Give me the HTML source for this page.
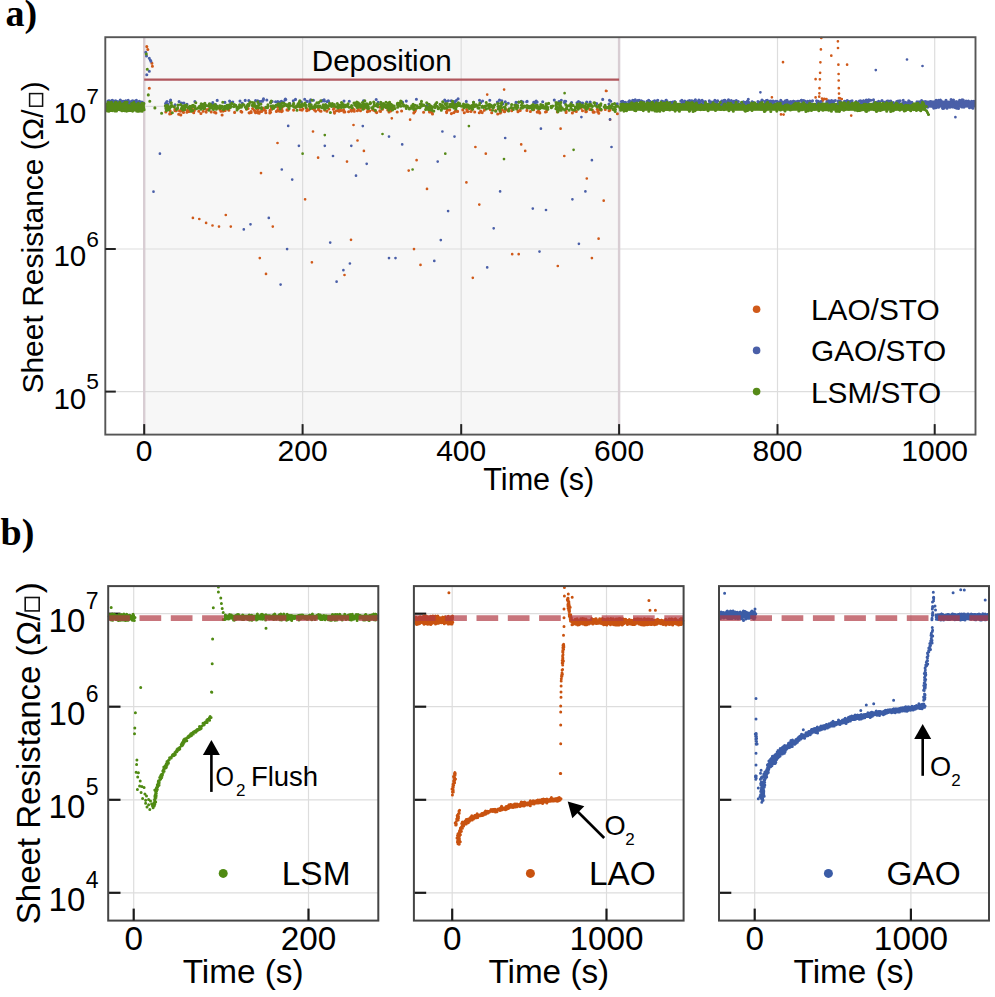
<!DOCTYPE html>
<html><head><meta charset="utf-8"><style>
html,body{margin:0;padding:0;background:#fff;}
svg{display:block;}
text{font-family:"Liberation Sans",sans-serif;fill:#000;}
</style></head><body>
<svg width="995" height="997" viewBox="0 0 995 997">
<rect width="995" height="997" fill="#fff"/>
<rect x="144.2" y="37.2" width="474.9" height="397.40000000000003" fill="#f7f7f7"/>
<line x1="302.6" y1="37.2" x2="302.6" y2="434.6" stroke="#dddddd" stroke-width="1.2"/>
<line x1="461.2" y1="37.2" x2="461.2" y2="434.6" stroke="#dddddd" stroke-width="1.2"/>
<line x1="777.5" y1="37.2" x2="777.5" y2="434.6" stroke="#dddddd" stroke-width="1.2"/>
<line x1="934.7" y1="37.2" x2="934.7" y2="434.6" stroke="#dddddd" stroke-width="1.2"/>
<line x1="105.3" y1="391.6" x2="975.5" y2="391.6" stroke="#dddddd" stroke-width="1.2"/>
<line x1="105.3" y1="249.0" x2="975.5" y2="249.0" stroke="#dddddd" stroke-width="1.2"/>
<line x1="105.3" y1="106.4" x2="975.5" y2="106.4" stroke="#dddddd" stroke-width="1.2"/>
<line x1="144.2" y1="37.2" x2="144.2" y2="434.6" stroke="#d8cdd3" stroke-width="2.4"/>
<line x1="619.1" y1="37.2" x2="619.1" y2="434.6" stroke="#d8cdd3" stroke-width="2.4"/>
<rect x="106" y="102.6" width="38.5" height="8.2" fill="#568a18"/>
<rect x="619.5" y="102.8" width="306.5" height="8.0" fill="#568a18"/>
<rect x="926" y="100.6" width="49" height="7.0" fill="#4a5fa8"/>
<path d="M146.8 46.6h0M151.9 63.2h0M152.4 66.2h0M149.3 88.3h0M147.8 49.5h0M464.3 112.7h0M279.5 111.3h0M198.8 111.3h0M258.2 113.0h0M500.9 112.2h0M338.7 109.9h0M382.5 109.2h0M445.1 108.1h0M456.8 111.2h0M280.3 110.7h0M502.4 109.8h0M170.7 113.7h0M192.5 111.3h0M479.3 112.7h0M471.8 110.0h0M376.0 112.0h0M376.7 112.6h0M255.5 112.8h0M609.1 110.8h0M373.4 110.1h0M537.2 112.1h0M287.0 109.9h0M260.3 111.6h0M429.0 110.1h0M229.4 107.4h0M225.2 110.5h0M537.4 107.4h0M484.3 110.3h0M270.0 111.8h0M176.3 110.8h0M166.6 110.3h0M302.1 110.1h0M228.9 110.3h0M546.5 111.6h0M165.8 112.0h0M219.5 108.3h0M585.6 109.8h0M296.6 106.9h0M334.0 105.8h0M432.5 113.9h0M328.8 109.0h0M186.9 112.2h0M211.2 111.9h0M589.8 109.4h0M278.2 110.1h0M251.2 112.5h0M334.5 113.1h0M533.6 109.7h0M451.4 113.6h0M414.3 108.5h0M491.7 112.8h0M369.7 111.0h0M506.7 109.7h0M187.2 110.7h0M585.8 111.7h0M321.0 111.3h0M300.2 109.7h0M283.1 106.2h0M462.8 109.9h0M344.0 112.0h0M241.0 111.4h0M576.3 111.4h0M390.7 110.9h0M617.4 113.7h0M369.3 110.9h0M206.2 112.1h0M320.2 111.0h0M282.3 110.9h0M423.6 112.3h0M352.4 108.6h0M352.9 108.7h0M318.5 109.8h0M193.2 110.9h0M222.1 115.0h0M393.5 108.3h0M263.0 108.4h0M288.0 110.2h0M367.4 111.7h0M598.1 112.3h0M174.9 109.4h0M179.6 111.0h0M379.9 107.2h0M431.6 111.9h0M585.8 110.5h0M539.8 113.0h0M277.8 107.2h0M214.5 112.3h0M474.7 112.0h0M592.4 110.1h0M512.2 108.4h0M372.6 109.8h0M520.2 110.4h0M270.6 112.3h0M302.9 109.0h0M223.1 111.1h0M482.2 112.6h0M215.9 112.9h0M429.6 111.2h0M341.2 110.5h0M169.7 113.9h0M301.9 106.3h0M457.6 111.4h0M566.2 109.4h0M277.2 110.5h0M601.1 110.1h0M174.9 110.6h0M391.2 109.6h0M281.8 108.9h0M468.0 111.5h0M180.5 111.3h0M318.5 108.1h0M254.9 111.8h0M526.9 110.4h0M258.2 108.8h0M605.3 109.4h0M269.8 113.0h0M265.5 110.6h0M597.2 109.2h0M390.1 110.7h0M354.3 111.2h0M467.0 111.3h0M343.6 109.9h0M261.7 111.4h0M188.5 111.5h0M192.3 109.1h0M566.1 112.5h0M497.7 114.0h0M314.5 110.0h0M249.2 113.0h0M179.5 110.8h0M466.7 109.5h0M315.6 111.1h0M241.8 112.1h0M324.6 110.1h0M598.8 113.3h0M259.2 113.3h0M326.9 111.3h0M361.3 107.7h0M187.4 110.2h0M582.5 110.7h0M252.6 108.6h0M178.7 114.2h0M351.5 111.1h0M183.5 109.4h0M180.8 114.9h0M281.7 111.6h0M504.3 111.6h0M288.6 109.4h0M599.8 109.6h0M490.4 109.7h0M308.7 110.0h0M508.1 110.6h0M581.1 108.1h0M176.0 109.2h0M271.2 106.7h0M598.1 111.1h0M340.5 110.1h0M389.0 111.9h0M586.4 111.6h0M500.3 113.0h0M538.5 110.8h0M313.8 108.0h0M310.1 108.3h0M200.9 113.5h0M254.6 110.7h0M194.4 110.4h0M180.4 110.5h0M610.0 110.1h0M566.1 111.7h0M203.2 111.3h0M208.8 109.0h0M367.9 110.2h0M271.3 108.6h0M471.0 111.5h0M504.6 111.8h0M220.0 109.4h0M546.8 110.0h0M334.3 112.0h0M500.1 110.9h0M276.4 111.4h0M234.6 112.4h0M313.2 108.7h0M344.8 111.9h0M270.0 110.4h0M532.0 107.9h0M211.5 107.5h0M380.5 111.5h0M580.1 107.9h0M183.3 111.5h0M251.1 111.5h0M606.7 107.5h0M334.0 108.4h0M558.2 109.4h0M518.1 110.9h0M594.3 112.1h0M446.5 111.7h0M263.8 110.0h0M257.6 111.2h0M280.7 108.5h0M257.4 109.4h0M170.2 110.9h0M249.1 112.8h0M306.7 110.8h0M413.8 112.9h0M193.7 112.8h0M414.8 111.3h0M455.2 111.3h0M480.7 111.0h0M351.0 109.9h0M597.7 111.8h0M306.8 108.7h0M354.1 109.6h0M557.4 111.9h0M254.5 110.6h0M495.5 110.5h0M574.3 110.7h0M357.4 110.8h0M565.8 109.1h0M374.3 110.4h0M415.4 110.6h0M455.9 111.0h0M447.5 110.1h0M333.4 109.3h0M293.6 110.1h0M401.6 111.0h0M387.7 110.0h0M530.4 111.5h0M222.5 110.9h0M593.2 112.2h0M189.2 111.4h0M585.5 108.0h0M446.6 112.6h0M539.3 111.9h0M265.8 112.7h0M348.6 111.8h0M248.1 108.5h0M264.0 109.1h0M339.1 111.2h0M220.9 111.2h0M572.4 112.9h0M183.7 109.4h0M182.3 110.8h0M545.5 112.0h0M414.7 111.8h0M449.7 110.0h0M429.5 111.9h0M358.3 109.3h0M364.0 108.8h0M175.6 110.6h0M271.8 109.2h0M511.7 110.8h0M246.5 109.2h0M379.8 110.9h0M360.5 110.7h0M206.6 109.7h0M183.5 112.4h0M453.9 112.6h0M518.0 111.7h0M397.2 112.0h0M336.5 110.7h0" stroke="#d05a1a" stroke-width="3.1" stroke-linecap="round" fill="none"/>
<path d="M118.6 102.2h0M109.2 102.4h0M126.6 101.4h0M125.5 101.8h0M107.9 101.4h0M109.9 101.7h0M122.4 101.8h0M114.9 101.3h0M130.0 102.5h0M121.4 101.3h0M143.1 102.9h0M117.4 102.0h0M111.9 102.0h0M137.1 102.0h0M113.3 100.7h0M120.5 101.1h0M127.0 101.8h0M114.2 101.7h0M132.0 101.1h0M128.5 101.9h0M123.5 101.2h0M132.7 102.8h0M115.7 100.8h0M139.3 101.2h0M133.9 101.1h0M110.9 103.5h0M122.2 101.6h0M124.8 101.2h0M108.0 101.0h0M128.0 100.6h0M139.3 101.2h0M128.8 102.6h0M128.2 100.3h0M141.9 102.0h0M124.3 101.5h0M132.8 101.4h0M130.8 102.9h0M117.2 101.5h0M121.0 101.5h0M123.8 101.5h0M112.8 101.8h0M135.3 101.8h0M111.4 101.6h0M139.2 102.3h0M109.5 100.8h0M139.6 101.9h0M137.2 102.0h0M122.1 101.2h0M120.0 102.9h0M112.2 100.4h0M113.1 101.7h0M124.7 102.1h0M128.6 101.6h0M122.2 101.7h0M120.3 100.0h0M132.4 100.9h0M125.8 100.8h0M108.5 100.9h0M140.2 101.9h0M136.4 100.2h0M121.2 101.3h0M130.3 101.8h0M108.8 102.0h0M112.6 101.8h0M119.3 101.6h0M112.2 101.6h0M110.3 101.5h0M139.3 101.7h0M129.5 101.9h0M119.5 102.0h0M145.8 52.2h0M149.3 58.2h0M150.4 60.2h0M150.9 61.2h0M149.3 71.3h0M146.8 74.8h0M146.5 56.0h0M596.7 103.6h0M617.2 103.9h0M497.4 102.0h0M610.7 101.2h0M388.3 104.1h0M240.0 101.1h0M522.9 102.1h0M324.3 100.9h0M508.3 103.2h0M289.8 103.5h0M535.3 102.7h0M582.6 103.1h0M259.6 101.5h0M309.9 102.6h0M181.7 103.1h0M590.1 102.6h0M473.6 102.2h0M521.3 101.2h0M217.2 100.4h0M328.3 100.7h0M561.3 100.2h0M565.7 101.3h0M212.5 104.1h0M344.0 101.1h0M527.1 101.4h0M427.1 105.4h0M328.6 101.2h0M245.2 100.4h0M502.6 104.0h0M280.2 102.0h0M455.2 103.2h0M466.3 101.4h0M306.9 101.4h0M232.8 102.0h0M444.7 100.1h0M571.6 102.5h0M224.9 102.4h0M175.1 104.7h0M166.2 102.6h0M327.1 101.6h0M266.8 100.0h0M257.7 100.8h0M448.3 100.8h0M590.2 102.0h0M275.6 101.7h0M454.7 102.0h0M560.6 102.1h0M285.0 99.9h0M170.2 101.9h0M324.1 99.8h0M458.1 98.7h0M498.0 102.7h0M277.8 101.6h0M406.3 101.1h0M349.3 101.2h0M518.6 102.2h0M170.6 100.0h0M229.6 101.1h0M255.6 100.5h0M456.3 100.5h0M534.3 102.3h0M301.3 102.0h0M187.0 104.4h0M489.8 100.2h0M167.9 104.2h0M376.2 99.5h0M501.8 100.8h0M212.8 102.6h0M270.5 102.6h0M505.3 101.9h0M480.6 102.7h0M285.8 99.5h0M416.4 99.3h0M402.6 102.2h0M285.4 99.1h0M263.5 98.9h0M564.5 102.8h0M272.2 101.5h0M502.7 103.7h0M313.4 100.3h0M564.6 101.4h0M577.0 102.7h0M451.3 100.8h0M609.5 100.2h0M378.1 102.3h0M554.3 100.1h0M363.5 100.9h0M304.7 99.3h0M261.2 101.2h0M578.5 101.5h0M230.6 102.6h0M586.7 102.0h0M321.6 101.3h0M183.9 103.0h0M479.5 100.2h0M499.5 100.1h0M194.9 101.5h0M536.2 101.1h0M537.1 102.1h0M559.0 101.5h0M580.1 102.5h0M258.4 101.4h0M215.8 104.7h0M533.7 102.3h0M452.9 102.3h0M295.5 99.4h0M210.3 104.1h0M258.1 102.9h0M309.9 100.8h0M281.5 101.4h0M293.3 100.8h0M310.7 99.8h0M602.7 99.4h0M445.7 101.4h0M179.1 101.6h0M516.0 102.4h0M322.4 100.6h0M263.3 100.0h0M556.5 103.8h0M242.3 103.2h0M165.6 103.6h0M609.0 104.1h0M167.0 101.5h0M526.7 101.8h0M248.8 100.6h0M542.7 101.8h0M283.3 102.2h0M262.5 101.2h0M482.6 101.0h0M454.0 101.5h0M785.4 100.7h0M821.8 101.1h0M804.7 101.0h0M699.2 102.7h0M838.4 101.7h0M714.9 100.2h0M857.2 102.5h0M705.4 101.5h0M780.7 102.0h0M622.8 101.4h0M766.1 100.8h0M731.3 100.5h0M923.8 101.8h0M647.6 102.9h0M628.6 101.8h0M774.1 101.8h0M790.5 102.4h0M732.2 103.3h0M665.8 102.2h0M902.9 102.8h0M669.8 103.0h0M694.5 101.9h0M921.6 100.5h0M725.7 101.6h0M865.8 100.9h0M897.4 101.8h0M653.1 101.6h0M818.2 101.3h0M743.4 101.8h0M793.2 101.4h0M745.8 103.3h0M812.5 100.7h0M688.8 101.6h0M753.2 102.2h0M691.0 102.0h0M817.3 102.9h0M711.6 102.2h0M794.8 101.6h0M668.1 102.7h0M702.1 100.4h0M850.7 101.9h0M721.8 101.0h0M769.1 102.0h0M829.6 101.3h0M803.5 100.6h0M891.0 101.9h0M684.4 102.2h0M859.4 101.1h0M885.0 102.3h0M925.4 103.1h0M711.4 102.0h0M919.1 101.7h0M622.9 102.0h0M846.0 101.4h0M649.9 102.2h0M647.7 102.7h0M724.2 102.7h0M890.8 101.0h0M920.8 102.2h0M863.2 101.7h0M831.7 102.5h0M691.1 101.8h0M752.2 101.7h0M924.2 101.7h0M717.2 101.9h0M769.6 101.3h0M661.7 101.1h0M830.4 101.8h0M665.4 101.5h0M654.5 100.7h0M728.5 99.8h0M727.3 101.6h0M686.0 103.2h0M844.5 101.3h0M703.8 101.9h0M641.2 102.2h0M633.3 100.8h0M790.9 101.6h0M731.3 102.8h0M820.5 101.7h0M787.0 100.4h0M921.6 101.2h0M888.3 101.4h0M717.7 100.8h0M748.7 102.4h0M738.3 101.5h0M745.9 103.4h0M621.6 103.8h0M806.6 102.1h0M807.5 101.3h0M735.7 101.6h0M655.7 102.1h0M878.8 102.0h0M635.2 99.9h0M833.1 101.1h0M788.5 102.6h0M716.9 101.6h0M849.1 101.6h0M882.0 100.5h0M925.4 101.5h0M692.0 100.7h0M736.3 100.6h0M838.6 100.8h0M808.1 102.2h0M827.9 101.1h0M786.7 102.6h0M688.5 101.1h0M899.0 101.2h0M765.3 101.4h0M766.3 100.6h0M687.9 102.7h0M782.3 103.0h0M780.8 100.2h0M693.3 101.3h0M672.9 102.0h0M816.6 100.8h0M874.0 102.9h0M633.3 100.6h0M737.0 102.3h0M657.8 100.3h0M667.2 101.6h0M729.5 102.0h0M866.6 100.7h0M647.0 101.5h0M741.4 102.8h0M757.9 101.6h0M766.9 102.0h0M666.0 100.3h0M828.8 100.9h0M693.0 102.3h0M733.8 101.2h0M625.5 102.3h0M681.7 101.4h0M674.8 101.5h0M840.5 101.5h0M694.2 102.3h0M876.1 102.6h0M883.7 102.2h0M681.9 100.3h0M809.7 102.3h0M734.1 102.4h0M732.7 101.8h0M838.7 101.4h0M819.0 102.4h0M868.9 101.1h0M797.7 102.2h0M903.9 102.4h0M838.6 103.6h0M734.3 101.2h0M641.7 101.0h0M852.1 100.9h0M772.5 102.3h0M896.7 101.6h0M802.0 101.4h0M762.0 100.1h0M747.4 102.0h0M765.4 102.3h0M770.8 101.1h0M777.1 102.1h0M847.3 100.5h0M743.3 102.8h0M790.0 101.9h0M856.2 101.6h0M687.8 101.2h0M643.7 101.8h0M647.1 101.3h0M851.3 101.4h0M829.1 101.5h0M838.3 101.3h0M832.1 101.6h0M748.3 99.2h0M870.8 100.2h0M887.7 102.0h0M779.1 102.2h0M621.9 102.2h0M700.5 101.6h0M716.1 101.6h0M790.6 103.2h0M776.9 101.4h0M713.5 101.7h0M886.1 102.1h0M698.9 100.1h0M682.0 102.5h0M734.8 101.9h0M762.5 100.5h0M732.3 101.7h0M866.0 102.2h0M790.7 103.3h0M635.7 101.2h0M745.5 102.5h0M793.4 101.3h0M864.4 102.2h0M709.5 101.2h0M801.8 100.2h0M759.6 102.4h0M889.6 101.3h0M637.7 100.6h0M635.0 102.1h0M884.8 102.6h0M675.3 102.1h0M903.2 100.3h0M773.0 101.1h0M826.9 101.3h0M684.8 101.0h0M877.4 102.7h0M683.5 103.0h0M651.0 102.8h0M911.9 102.4h0M747.3 101.3h0M898.1 101.1h0M830.6 101.8h0M833.6 101.8h0M632.8 101.9h0M691.4 101.0h0M798.7 101.2h0M667.3 102.5h0M900.0 100.9h0M666.6 103.0h0M865.4 102.4h0M630.1 101.5h0M736.7 101.2h0M787.5 101.2h0M648.7 100.3h0M752.0 101.9h0M828.4 102.7h0M657.5 102.6h0M903.5 103.5h0M781.6 101.6h0M709.3 100.8h0M772.4 102.7h0M905.5 102.4h0M885.2 102.1h0M803.5 101.3h0M662.9 101.5h0M703.3 102.8h0M689.7 100.6h0M903.9 102.7h0M917.0 101.8h0M725.7 102.7h0M635.4 101.2h0M722.3 101.0h0M847.9 101.8h0M674.9 101.8h0M641.3 100.9h0M791.7 102.4h0M861.9 102.2h0M802.8 101.4h0M777.6 101.7h0M649.8 101.3h0M797.4 101.3h0M728.3 100.8h0M670.3 102.4h0M672.1 102.3h0M878.6 101.3h0M888.1 101.1h0M648.9 101.7h0M889.9 102.3h0M784.5 102.2h0M656.1 101.1h0M784.4 101.7h0M775.6 101.2h0M743.9 102.0h0M682.5 102.0h0M887.6 102.0h0M774.1 101.7h0M909.6 101.5h0M769.9 101.9h0M831.5 100.6h0M690.4 101.6h0M701.1 101.1h0M629.5 100.8h0M709.6 102.2h0M893.4 102.5h0M691.8 102.1h0M802.8 101.9h0M639.1 100.4h0M695.4 99.7h0M632.7 100.3h0M809.8 101.1h0M725.0 100.2h0M868.8 99.8h0M623.3 102.0h0M908.7 100.9h0M647.0 102.0h0M695.2 101.5h0M666.4 100.4h0M725.7 101.9h0M687.4 102.0h0M721.6 104.3h0M863.0 101.2h0M767.3 100.2h0M898.8 101.6h0M850.7 101.3h0M811.9 101.2h0M879.6 101.7h0M840.3 101.3h0M727.2 102.7h0M826.5 103.4h0M848.9 102.6h0M907.7 102.7h0M897.8 101.6h0M866.3 100.1h0M801.2 100.2h0M860.8 102.2h0M887.3 101.0h0M783.2 103.5h0M910.4 103.2h0M861.8 103.0h0M697.4 101.9h0M680.8 101.1h0M760.6 101.7h0M898.8 102.5h0M830.4 101.4h0M860.6 100.8h0M863.6 100.8h0M873.5 99.9h0M744.7 102.6h0M876.7 102.2h0M724.3 100.3h0M863.4 100.7h0M621.4 101.5h0M654.0 101.6h0M869.4 100.6h0M760.4 102.1h0M723.0 101.8h0M879.3 102.3h0M810.1 101.5h0M703.2 101.9h0M835.3 100.5h0M867.8 102.0h0M931.0 105.7h0M927.1 107.0h0M934.1 102.0h0M972.4 102.9h0M936.1 107.6h0M955.2 107.6h0M944.5 104.1h0M972.3 104.2h0M973.9 101.3h0M966.1 101.1h0M951.1 99.6h0M933.7 108.1h0M947.5 106.9h0M937.4 102.8h0M930.0 104.6h0M967.7 104.2h0M943.6 108.0h0M969.2 105.6h0M928.8 105.2h0M947.0 108.2h0M942.9 105.6h0M956.3 103.0h0M950.8 105.7h0M969.9 104.1h0M943.0 108.4h0M927.8 107.1h0M958.8 104.6h0M947.2 106.4h0M969.1 106.2h0M962.1 99.9h0M941.1 100.8h0M972.2 107.6h0M932.2 104.9h0M953.5 100.0h0M944.4 106.3h0M956.8 102.1h0M962.7 102.2h0M951.9 103.4h0M973.4 105.4h0M964.8 105.7h0M943.8 108.3h0M960.1 105.8h0M938.7 101.1h0M953.5 107.0h0M964.3 102.7h0M931.9 104.2h0M968.4 101.1h0M961.5 101.1h0M940.4 100.1h0M939.7 103.0h0M972.9 108.3h0M934.3 102.4h0M971.7 101.4h0M940.9 103.5h0M930.4 101.9h0M944.5 103.1h0M972.7 102.0h0M935.1 107.8h0M947.3 107.1h0M956.5 106.6h0M940.6 101.0h0M962.5 103.8h0M952.7 105.6h0M962.3 102.1h0M943.0 107.9h0M951.2 102.2h0M956.2 101.9h0M963.2 100.0h0M965.9 104.7h0M942.5 108.1h0M938.1 101.8h0M928.5 104.5h0M962.3 105.7h0M945.4 106.9h0M930.5 102.4h0M956.9 108.3h0M956.4 105.8h0M963.3 103.2h0M971.5 106.3h0M941.9 103.1h0M964.9 102.7h0M934.2 107.4h0M951.3 104.3h0M958.1 107.7h0M931.6 102.6h0M928.3 103.3h0M949.9 107.3h0M958.1 104.8h0M945.0 104.8h0M938.6 107.2h0M964.0 107.1h0M932.5 105.6h0M962.3 104.1h0M969.5 107.7h0M961.8 107.0h0M957.1 107.5h0M931.5 105.9h0M959.8 105.1h0M938.6 100.2h0M954.9 107.0h0M938.5 101.5h0M936.1 100.4h0M958.5 108.4h0M964.7 102.8h0M959.6 100.2h0M966.5 102.5h0M925.2 105.3h0M931.9 102.1h0M927.9 103.6h0M952.5 106.9h0M927.0 107.0h0M930.5 101.6h0M956.2 102.7h0M941.4 104.7h0M935.8 106.7h0M935.3 107.2h0M965.0 104.4h0M926.5 106.6h0M926.4 104.1h0M946.0 100.2h0" stroke="#4a5fa8" stroke-width="3.1" stroke-linecap="round" fill="none"/>
<path d="M120.3 103.3h0M138.8 111.2h0M124.2 106.6h0M109.8 103.1h0M119.5 104.6h0M138.0 103.7h0M107.4 110.9h0M126.6 103.5h0M127.1 102.4h0M126.6 111.1h0M139.3 108.5h0M116.4 105.5h0M112.8 109.2h0M126.7 109.3h0M119.0 104.2h0M137.3 111.2h0M138.9 109.5h0M137.6 108.9h0M115.1 106.9h0M120.0 102.5h0M107.6 104.7h0M116.3 108.5h0M142.8 106.3h0M142.1 111.2h0M142.8 105.5h0M114.9 104.3h0M114.0 104.1h0M130.2 110.4h0M138.4 106.6h0M131.3 109.5h0M109.7 108.2h0M141.1 109.3h0M135.0 106.6h0M113.3 109.4h0M119.1 109.5h0M143.4 105.8h0M121.8 110.8h0M134.0 103.7h0M111.3 103.6h0M140.9 109.5h0M112.1 109.7h0M143.8 108.2h0M119.8 107.2h0M111.5 102.3h0M143.4 108.1h0M126.5 110.7h0M123.0 110.1h0M137.9 104.1h0M116.1 104.9h0M115.6 107.5h0M116.4 106.0h0M111.5 110.5h0M119.9 106.4h0M128.7 110.4h0M122.5 110.6h0M125.6 107.0h0M126.4 102.4h0M123.2 103.9h0M106.6 109.5h0M113.0 106.5h0M134.1 107.3h0M118.9 106.9h0M127.6 109.3h0M110.5 107.3h0M115.9 104.7h0M135.8 106.8h0M127.8 109.1h0M141.2 106.2h0M129.8 106.8h0M126.0 108.5h0M123.7 107.1h0M124.7 110.8h0M133.1 110.2h0M142.3 104.6h0M127.8 110.8h0M138.4 103.4h0M111.1 106.2h0M109.3 104.4h0M109.3 108.3h0M136.3 110.4h0M112.4 108.7h0M131.6 103.5h0M140.0 111.0h0M114.8 110.9h0M121.6 106.6h0M144.1 109.8h0M112.6 106.1h0M126.1 105.3h0M113.9 105.1h0M133.9 102.4h0M127.6 106.2h0M107.2 105.2h0M130.2 106.9h0M108.9 111.2h0M136.5 111.0h0M110.5 104.6h0M108.0 109.3h0M116.8 103.4h0M122.5 110.5h0M137.6 104.6h0M112.2 110.6h0M128.2 108.6h0M109.9 102.7h0M132.7 106.1h0M109.3 110.7h0M130.6 109.5h0M109.7 110.0h0M109.0 110.1h0M123.7 105.3h0M127.5 110.6h0M116.7 103.4h0M126.5 104.4h0M110.7 103.7h0M108.4 104.0h0M118.4 105.0h0M135.4 104.8h0M125.5 103.8h0M119.7 102.4h0M116.0 102.3h0M134.4 107.2h0M113.7 106.5h0M142.0 103.2h0M137.6 106.1h0M125.3 109.8h0M121.4 106.8h0M132.6 111.1h0M119.5 109.8h0M133.4 108.0h0M121.9 105.4h0M108.6 103.4h0M109.2 108.9h0M116.2 103.7h0M109.7 109.9h0M139.6 108.3h0M117.2 104.4h0M117.6 106.4h0M112.5 106.3h0M116.5 111.0h0M143.5 107.2h0M115.8 111.0h0M118.3 105.4h0M106.5 105.7h0M124.5 106.8h0M114.1 106.8h0M106.7 104.6h0M109.9 105.8h0M108.1 102.4h0M118.1 104.3h0M128.8 107.0h0M135.0 108.2h0M133.7 110.2h0M121.3 105.2h0M143.9 103.6h0M134.0 108.1h0M108.2 109.8h0M140.4 107.9h0M134.4 109.6h0M111.8 107.0h0M125.7 109.8h0M137.1 109.7h0M128.7 110.3h0M132.5 108.5h0M115.2 102.5h0M111.6 105.5h0M110.5 109.8h0M127.7 107.9h0M130.3 108.4h0M125.1 102.2h0M136.8 109.0h0M125.6 107.1h0M147.3 69.2h0M146.3 54.0h0M148.3 94.9h0M149.8 101.2h0M154.9 107.9h0M161.6 113.3h0M201.7 107.6h0M522.3 103.4h0M450.1 104.8h0M344.1 107.1h0M569.2 110.3h0M176.4 109.5h0M258.6 105.6h0M392.5 110.0h0M337.2 106.6h0M374.3 104.7h0M406.3 105.9h0M458.4 102.7h0M323.2 104.9h0M547.8 107.6h0M465.6 106.0h0M364.2 104.4h0M516.1 105.5h0M374.8 105.2h0M566.8 106.8h0M301.9 106.6h0M484.2 106.8h0M235.8 105.4h0M277.4 104.5h0M238.1 108.5h0M313.9 107.4h0M495.8 111.3h0M211.2 107.6h0M339.4 105.3h0M611.7 107.9h0M362.5 102.5h0M254.1 105.4h0M258.7 105.2h0M341.3 107.5h0M524.1 106.9h0M479.8 103.3h0M375.3 105.6h0M229.4 104.8h0M501.4 105.1h0M577.2 104.4h0M505.1 107.4h0M356.2 106.0h0M564.6 109.9h0M516.4 105.2h0M473.5 102.4h0M456.3 104.4h0M450.2 106.5h0M209.4 103.7h0M488.8 107.9h0M450.8 106.0h0M371.7 107.7h0M447.2 103.5h0M587.3 108.4h0M248.1 104.2h0M341.5 102.6h0M387.4 106.3h0M411.7 105.7h0M238.0 107.3h0M400.7 101.1h0M210.9 104.5h0M490.7 105.1h0M397.5 103.3h0M401.8 102.9h0M351.3 106.8h0M475.7 105.7h0M343.2 105.6h0M611.9 105.9h0M326.4 106.9h0M346.5 106.1h0M171.0 105.6h0M482.0 107.2h0M324.9 105.3h0M501.6 107.7h0M591.7 105.5h0M528.9 106.2h0M343.0 105.7h0M517.6 107.4h0M532.5 105.0h0M420.2 104.2h0M267.6 107.6h0M455.0 105.6h0M536.7 107.4h0M298.6 103.3h0M413.9 108.5h0M326.1 108.1h0M551.2 106.4h0M280.1 107.6h0M358.5 105.6h0M492.7 106.4h0M292.7 105.5h0M382.7 107.4h0M359.5 103.7h0M329.5 103.2h0M586.6 107.2h0M540.9 106.0h0M576.2 107.0h0M542.4 105.5h0M452.5 106.3h0M597.1 106.9h0M462.8 106.1h0M229.8 107.4h0M271.1 106.1h0M234.3 104.6h0M575.5 107.1h0M569.6 105.5h0M441.2 106.5h0M570.8 103.8h0M522.8 107.1h0M479.5 105.0h0M406.0 105.7h0M565.7 104.5h0M417.0 105.7h0M228.3 107.9h0M388.9 107.8h0M230.6 107.2h0M388.1 103.2h0M556.7 106.7h0M168.0 108.7h0M420.4 104.0h0M467.0 107.1h0M355.1 103.9h0M601.1 109.4h0M453.8 107.3h0M178.0 105.0h0M587.9 104.9h0M315.0 107.7h0M385.0 105.4h0M572.5 109.8h0M448.9 106.7h0M318.7 106.6h0M380.4 104.2h0M403.6 106.0h0M362.6 104.2h0M356.8 102.0h0M298.0 104.1h0M540.8 104.6h0M288.4 106.8h0M394.9 108.6h0M524.5 106.0h0M315.2 104.7h0M431.2 107.5h0M453.2 106.1h0M493.1 105.7h0M567.1 106.1h0M301.4 105.1h0M167.8 109.1h0M441.3 110.2h0M463.7 107.1h0M442.7 101.7h0M445.0 103.8h0M435.7 103.7h0M474.2 106.8h0M372.9 108.5h0M511.3 107.4h0M181.8 108.0h0M516.6 108.9h0M332.5 104.0h0M538.5 107.1h0M282.1 103.1h0M302.1 103.8h0M360.5 106.4h0M456.4 106.7h0M422.6 105.6h0M182.9 109.9h0M426.2 108.4h0M582.1 106.5h0M340.8 105.6h0M433.8 111.1h0M380.9 103.5h0M352.2 107.8h0M261.4 107.6h0M233.9 106.6h0M475.4 106.2h0M220.2 107.4h0M559.8 106.5h0M223.6 109.7h0M275.0 106.1h0M498.0 106.5h0M516.4 107.0h0M489.0 108.2h0M203.3 104.3h0M450.4 105.4h0M588.3 104.7h0M280.3 108.7h0M170.2 106.7h0M171.7 105.2h0M201.2 103.9h0M306.2 105.2h0M555.9 105.4h0M385.8 107.5h0M426.0 106.6h0M364.2 105.1h0M527.0 105.5h0M329.9 103.7h0M354.8 103.3h0M340.1 106.6h0M521.2 101.7h0M422.3 105.7h0M607.2 107.6h0M484.3 107.0h0M440.0 104.4h0M608.8 108.3h0M305.1 103.0h0M359.6 107.1h0M475.9 104.9h0M438.2 108.8h0M293.6 103.2h0M165.8 107.3h0M431.3 108.0h0M535.5 107.0h0M543.3 106.2h0M533.5 108.2h0M289.3 103.5h0M551.4 107.7h0M579.8 103.9h0M322.5 107.6h0M527.0 107.7h0M256.0 106.0h0M271.3 101.1h0M440.5 105.0h0M258.8 104.0h0M280.6 105.6h0M373.7 102.1h0M204.8 108.0h0M270.7 102.6h0M428.1 109.2h0M401.9 103.3h0M381.4 104.6h0M252.3 105.4h0M247.0 105.6h0M421.3 104.1h0M347.7 104.4h0M185.2 107.0h0M617.7 106.3h0M452.3 106.7h0M522.5 107.9h0M321.6 107.6h0M400.8 106.3h0M614.6 107.0h0M558.2 104.1h0M283.8 105.8h0M518.8 102.1h0M513.3 108.5h0M536.7 108.0h0M182.2 106.9h0M256.2 106.4h0M188.2 107.9h0M418.1 107.4h0M595.0 105.3h0M578.1 109.2h0M345.4 106.6h0M219.4 108.1h0M421.3 105.5h0M455.8 108.9h0M343.5 104.7h0M368.5 108.4h0M615.2 111.4h0M265.7 107.4h0M324.8 105.8h0M574.9 109.9h0M186.4 105.0h0M522.0 105.7h0M612.4 104.2h0M190.3 109.1h0M591.5 109.5h0M472.3 105.3h0M509.1 108.9h0M212.9 106.0h0M221.4 108.0h0M383.5 106.4h0M230.0 107.7h0M472.6 109.3h0M253.6 106.3h0M181.3 108.5h0M589.0 106.2h0M558.5 107.5h0M368.0 104.9h0M209.0 110.2h0M450.3 104.3h0M370.4 103.6h0M381.8 108.8h0M450.2 106.9h0M190.8 108.2h0M489.0 105.2h0M560.3 106.3h0M285.9 104.5h0M288.1 106.1h0M546.2 106.0h0M387.9 106.8h0M309.4 106.2h0M609.3 106.4h0M190.8 109.4h0M260.9 104.1h0M381.8 105.3h0M256.5 107.5h0M330.4 112.5h0M585.0 106.4h0M209.3 105.7h0M191.1 111.2h0M494.8 104.8h0M172.3 112.7h0M531.4 105.9h0M165.9 108.4h0M542.8 105.3h0M362.6 105.4h0M579.0 107.3h0M227.7 109.0h0M246.8 106.6h0M254.3 102.9h0M201.0 109.2h0M389.9 107.1h0M289.3 106.2h0M486.3 108.9h0M533.5 105.3h0M194.8 106.3h0M497.7 103.6h0M190.1 108.8h0M533.0 104.5h0M557.5 109.9h0M388.8 110.1h0M381.4 106.1h0M560.9 106.5h0M542.6 107.8h0M331.7 106.4h0M435.1 107.6h0M167.1 105.3h0M399.1 105.5h0M219.8 105.8h0M557.9 103.0h0M310.7 104.9h0M506.1 104.4h0M192.8 110.5h0M389.6 102.2h0M398.0 103.3h0M174.4 106.9h0M604.2 107.1h0M211.6 108.0h0M278.7 105.8h0M208.8 106.3h0M482.3 106.3h0M437.1 106.3h0M426.7 102.8h0M211.7 106.3h0M559.8 106.5h0M220.9 106.0h0M389.1 104.1h0M220.4 106.6h0M349.2 107.3h0M555.9 108.7h0M231.8 103.4h0M239.6 104.8h0M540.0 108.4h0M355.9 104.8h0M546.2 104.6h0M592.3 106.5h0M517.7 105.6h0M317.1 106.6h0M362.8 109.2h0M579.4 106.3h0M535.0 106.9h0M399.9 105.2h0M599.9 108.3h0M356.6 105.0h0M452.2 104.4h0M196.4 108.8h0M361.6 105.2h0M228.3 106.5h0M605.2 107.7h0M452.5 101.4h0M532.4 109.6h0M180.6 104.5h0M456.3 105.7h0M289.1 108.5h0M411.2 108.3h0M278.8 104.4h0M401.2 101.3h0M295.5 107.4h0M303.7 104.7h0M434.8 105.1h0M599.1 105.3h0M376.8 105.5h0M407.4 106.4h0M224.6 107.4h0M298.3 104.0h0M275.5 106.6h0M204.9 103.2h0M441.9 104.9h0M423.9 105.1h0M487.5 105.1h0M374.2 103.0h0M377.9 104.8h0M306.0 105.4h0M397.7 107.2h0M339.0 105.2h0M325.1 105.3h0M556.3 106.8h0M388.1 108.3h0M294.3 107.1h0M515.5 106.3h0M237.0 110.0h0M364.8 107.3h0M193.2 105.4h0M498.9 107.7h0M214.6 107.5h0M500.3 111.3h0M235.2 105.4h0M471.6 107.7h0M444.8 108.2h0M400.1 102.8h0M500.4 106.2h0M380.8 102.3h0M521.4 105.3h0M222.8 102.3h0M560.4 110.1h0M431.0 106.0h0M391.0 108.3h0M354.7 105.0h0M520.8 108.3h0M337.3 103.5h0M370.3 102.5h0M298.0 106.2h0M342.4 103.6h0M311.2 104.7h0M522.3 107.8h0M366.6 103.7h0M248.6 105.8h0M426.2 106.9h0M429.0 109.7h0M312.0 107.7h0M547.9 109.2h0M257.8 101.7h0M358.6 105.8h0M186.5 107.0h0M421.5 101.4h0M516.2 106.5h0M409.5 108.2h0M399.8 105.7h0M476.1 104.7h0M435.0 107.1h0M324.4 108.3h0M403.5 104.8h0M209.9 105.3h0M419.8 107.3h0M425.6 109.6h0M386.0 102.2h0M364.8 100.9h0M320.8 100.7h0M405.7 106.3h0M309.4 104.2h0M609.2 108.0h0M215.2 104.6h0M571.1 105.3h0M614.6 103.5h0M568.2 105.7h0M296.6 105.9h0M397.3 104.5h0M247.8 106.1h0M451.1 104.5h0M616.2 105.9h0M454.0 108.0h0M522.6 107.0h0M304.3 105.3h0M303.2 105.2h0M547.3 104.0h0M254.3 104.5h0M391.0 104.2h0M458.7 105.5h0M406.3 108.4h0M351.6 105.5h0M220.2 108.5h0M213.4 109.5h0M210.4 107.9h0M538.7 108.7h0M443.3 106.2h0M170.7 106.7h0M514.8 105.0h0M325.6 108.3h0M241.9 106.2h0M575.4 107.7h0M429.3 104.6h0M340.1 107.3h0M189.8 109.1h0M600.7 105.2h0M364.6 104.5h0M185.0 106.1h0M587.6 107.9h0M573.1 105.4h0M535.4 105.6h0M600.9 109.5h0M390.0 107.1h0M342.0 105.0h0M491.2 106.6h0M562.4 108.4h0M384.9 106.1h0M243.8 104.8h0M327.7 107.5h0M297.0 110.3h0M419.9 107.7h0M340.1 107.1h0M348.1 106.5h0M539.9 106.9h0M324.5 105.5h0M293.7 106.7h0M272.7 108.6h0M320.0 106.0h0M235.8 106.1h0M287.4 104.7h0M544.1 108.1h0M544.7 108.1h0M530.4 107.5h0M493.0 107.8h0M336.1 106.8h0M596.7 106.5h0M394.2 106.1h0M224.4 108.7h0M485.7 105.9h0M431.8 110.2h0M332.1 105.5h0M261.5 108.7h0M561.1 108.4h0M411.3 107.5h0M287.8 105.8h0M463.5 104.1h0M422.7 105.1h0M204.1 108.7h0M245.4 107.2h0M465.9 104.7h0M214.5 104.9h0M392.2 105.0h0M299.8 106.9h0M267.8 106.5h0M222.3 106.2h0M348.1 103.9h0M577.7 107.4h0M556.0 102.5h0M225.0 106.4h0M473.5 106.6h0M466.3 104.9h0M464.2 107.7h0M482.5 106.2h0M324.9 109.3h0M450.5 106.4h0M579.4 107.7h0M498.3 106.2h0M183.2 106.6h0M238.6 106.8h0M337.9 107.1h0M182.8 106.1h0M246.6 108.8h0M546.1 103.7h0M280.6 104.3h0M362.5 104.8h0M165.4 105.8h0M543.8 106.8h0M184.5 105.6h0M552.8 106.1h0M276.0 105.3h0M215.5 107.0h0M580.2 105.4h0M505.3 109.0h0M343.7 107.1h0M504.4 107.1h0M205.8 105.4h0M594.6 102.8h0M479.0 108.3h0M500.3 107.7h0M370.6 103.2h0M189.7 106.4h0M397.4 103.8h0M586.4 109.2h0M184.8 109.6h0M484.0 106.7h0M413.1 104.4h0M605.1 105.3h0M278.4 103.7h0M192.0 105.8h0M256.4 107.6h0M306.0 107.4h0M469.3 108.5h0M273.0 105.9h0M367.0 108.0h0M589.9 105.8h0M566.6 108.0h0M229.4 104.8h0M535.2 105.8h0M413.9 105.9h0M467.6 104.9h0M436.8 102.6h0M542.4 107.4h0M217.0 106.2h0M258.7 107.8h0M192.4 106.8h0M483.5 107.5h0M368.4 107.0h0M377.8 106.8h0M329.8 105.8h0M169.9 108.1h0M615.4 107.0h0M490.6 105.4h0M610.0 106.1h0M386.9 105.3h0M362.1 106.5h0M168.8 109.8h0M582.5 105.1h0M589.6 104.6h0M461.3 106.1h0M227.9 108.0h0M177.6 107.9h0M299.5 101.5h0M249.3 103.6h0M585.7 103.9h0M241.5 107.1h0M502.0 102.6h0M313.3 106.9h0M310.4 108.8h0M332.3 103.6h0M542.5 105.9h0M273.7 108.2h0M450.2 106.7h0M537.2 105.3h0M594.0 102.7h0M389.4 104.5h0M301.0 105.3h0M428.8 108.6h0M239.3 107.8h0M366.2 106.5h0M183.1 107.0h0M364.5 106.8h0M166.3 110.5h0M546.7 108.7h0M358.2 102.8h0M293.6 104.1h0M356.2 103.5h0M318.8 102.6h0M540.0 107.6h0M575.4 107.6h0M366.2 107.0h0M420.8 105.1h0M203.6 107.9h0M312.0 100.2h0M577.6 108.1h0M557.9 111.7h0M446.4 105.2h0M533.3 109.3h0M441.6 107.1h0M299.9 100.8h0M383.3 103.6h0M458.9 105.5h0M566.8 108.4h0M177.6 108.4h0M368.1 108.4h0M203.7 105.8h0M428.7 104.3h0M354.0 103.0h0M344.9 105.0h0M216.9 108.4h0M413.8 109.6h0M216.0 107.7h0M208.1 105.6h0M406.0 105.8h0M416.5 108.2h0M267.9 104.9h0M398.0 105.3h0M432.2 107.7h0M198.4 107.9h0M364.5 107.3h0M489.4 104.3h0M508.6 110.9h0M492.6 110.3h0M211.4 107.7h0M242.7 104.5h0M600.9 103.7h0M227.1 105.2h0M517.4 107.8h0M334.0 106.0h0M171.9 106.2h0M301.2 104.5h0M486.2 102.5h0M447.0 107.9h0M560.9 102.5h0M560.3 104.9h0M241.3 106.2h0M511.7 104.5h0M474.0 106.6h0M334.3 104.6h0M499.7 109.3h0M184.8 106.2h0M439.1 108.0h0M529.6 107.9h0M216.3 109.3h0M280.6 104.3h0M252.7 102.5h0M428.9 107.2h0M216.6 107.6h0M528.5 106.6h0M249.1 104.6h0M477.0 105.6h0M337.9 108.0h0M409.4 109.0h0M478.0 107.9h0M171.3 102.8h0M320.4 106.8h0M561.4 108.6h0M528.4 107.7h0M536.5 106.8h0M473.5 104.4h0M236.9 107.7h0M548.7 103.4h0M442.3 108.5h0M199.5 106.3h0M570.9 107.9h0M432.5 107.1h0M328.9 105.8h0M377.4 103.9h0M325.6 104.5h0M167.7 105.9h0M174.3 106.5h0M373.6 106.3h0M231.2 106.4h0M469.6 105.9h0M392.0 107.3h0M284.0 103.3h0M599.5 105.9h0M615.5 109.5h0M515.0 106.9h0M561.1 107.1h0M453.1 103.2h0M329.8 104.7h0M561.3 110.2h0M591.1 106.1h0M511.6 104.8h0M500.7 103.5h0M324.1 105.3h0M415.0 105.3h0M318.1 105.8h0M311.7 107.6h0M331.7 105.3h0M275.5 105.9h0M226.6 108.3h0M168.3 109.0h0M367.3 104.0h0M423.2 105.5h0M195.1 108.2h0M301.9 104.2h0M415.3 108.8h0M590.6 104.4h0M429.8 109.7h0M201.3 108.0h0M613.3 109.3h0M327.1 105.7h0M559.2 104.6h0M195.8 102.7h0M290.2 105.9h0M281.9 106.8h0M286.7 105.7h0M484.8 106.6h0M256.0 108.0h0M438.7 107.8h0M254.3 103.9h0M498.2 108.9h0M201.0 106.3h0M532.5 107.8h0M227.0 105.2h0M250.4 102.1h0M455.5 105.1h0M584.0 107.2h0M505.2 108.1h0M459.6 103.6h0M318.3 107.1h0M191.1 106.6h0M449.3 106.3h0M316.9 102.7h0M281.7 105.7h0M375.4 110.2h0M421.1 106.3h0M613.3 109.6h0M493.8 107.2h0M314.4 106.3h0M229.8 107.1h0M513.3 109.5h0M357.1 107.5h0M813.1 109.0h0M799.3 106.0h0M777.0 107.7h0M689.4 110.4h0M925.2 109.8h0M914.7 105.3h0M922.3 102.9h0M766.5 103.5h0M759.1 108.6h0M837.1 106.5h0M724.7 104.0h0M743.5 104.9h0M679.5 109.1h0M778.2 106.3h0M680.6 108.8h0M680.3 104.7h0M791.7 108.8h0M918.2 109.2h0M910.7 110.8h0M841.5 109.0h0M639.2 104.1h0M624.0 110.3h0M841.3 108.1h0M700.9 105.5h0M670.2 108.1h0M923.9 105.1h0M633.6 103.8h0M728.9 110.7h0M866.6 106.5h0M651.3 103.2h0M667.2 109.5h0M764.4 111.5h0M899.4 109.7h0M766.0 109.9h0M659.3 103.2h0M792.7 107.0h0M684.1 104.6h0M626.5 110.7h0M837.7 111.1h0M920.5 106.3h0M844.5 105.8h0M868.8 110.1h0M661.0 102.3h0M685.6 107.7h0M736.1 102.3h0M874.5 109.6h0M762.1 102.6h0M892.5 107.2h0M641.8 105.2h0M811.4 110.5h0M768.5 108.2h0M683.1 104.5h0M897.6 105.8h0M651.9 107.8h0M658.7 104.1h0M759.9 107.7h0M815.1 108.8h0M754.7 102.8h0M842.1 102.7h0M764.3 106.0h0M826.2 108.9h0M693.5 108.3h0M832.1 106.6h0M663.5 110.7h0M803.6 102.8h0M693.1 111.5h0M690.1 105.9h0M861.5 109.9h0M814.3 109.2h0M631.7 103.1h0M919.2 109.7h0M631.7 102.7h0M693.7 110.9h0M687.3 108.5h0M905.2 108.2h0M901.8 104.7h0M667.0 102.4h0M852.1 103.2h0M918.3 108.9h0M677.3 109.8h0M669.9 107.0h0M652.4 109.6h0M892.7 110.8h0M620.7 110.2h0M790.4 109.9h0M774.0 108.0h0M802.2 109.7h0M643.8 102.7h0M787.2 104.9h0M741.7 102.3h0M848.3 102.4h0M874.3 109.8h0M760.4 103.3h0M819.2 104.1h0M751.5 103.2h0M919.3 107.3h0M728.0 103.1h0M843.8 110.2h0M880.0 103.2h0M732.7 105.0h0M853.7 103.6h0M805.9 111.4h0M855.6 102.3h0M643.0 103.3h0M832.2 107.8h0M779.4 106.5h0M744.9 107.9h0M818.8 110.8h0M844.6 109.7h0M899.8 110.1h0M839.7 102.5h0M828.7 110.2h0M752.0 110.5h0M675.1 111.1h0M755.4 108.8h0M697.4 105.0h0M726.8 105.2h0M649.0 106.4h0M920.6 108.3h0M905.7 109.4h0M876.5 111.5h0M850.7 104.8h0M696.5 106.1h0M626.4 104.4h0M891.6 110.9h0M720.7 109.4h0M857.5 110.6h0M863.5 107.2h0M652.1 110.0h0M716.1 108.1h0M732.5 107.3h0M916.0 103.7h0M782.7 108.3h0M785.0 111.0h0M744.9 110.8h0M831.4 111.3h0M647.5 104.2h0M708.1 110.7h0M624.2 104.6h0M839.4 111.5h0M674.0 106.3h0M830.5 108.7h0M848.7 109.3h0M696.2 104.6h0M628.5 108.7h0M684.1 104.6h0M915.6 108.2h0M801.2 108.4h0M803.2 108.7h0M713.1 102.8h0M640.5 102.3h0M730.8 103.5h0M654.6 106.8h0M917.2 108.7h0M703.8 109.4h0M674.5 103.1h0M712.9 106.0h0M831.3 106.4h0M843.2 103.1h0M905.8 105.4h0M875.1 102.5h0M874.0 104.3h0M882.1 109.7h0M825.6 104.8h0M623.0 104.0h0M897.3 103.7h0M822.1 107.7h0M822.7 103.9h0M664.0 103.1h0M921.2 105.8h0M819.9 107.6h0M688.4 102.8h0M624.5 110.2h0M659.9 111.3h0M731.5 109.0h0M662.4 109.6h0M697.1 105.6h0M780.3 103.2h0M696.1 109.7h0M707.4 105.8h0M854.4 104.3h0M679.4 104.3h0M737.8 105.6h0M816.6 106.6h0M886.6 102.7h0M823.4 110.1h0M692.0 102.5h0M754.4 103.3h0M761.0 108.9h0M648.7 103.3h0M767.0 103.8h0M690.7 106.3h0M656.3 102.8h0M730.7 106.6h0M907.1 107.4h0M641.9 104.3h0M848.1 107.5h0M886.7 111.2h0M883.0 103.2h0M909.2 107.1h0M693.5 103.8h0M885.0 104.2h0M645.5 104.7h0M903.2 106.5h0M844.2 102.9h0M758.8 105.2h0M682.9 108.4h0M730.7 103.3h0M921.7 106.7h0M675.2 102.3h0M820.1 107.0h0M627.5 106.6h0M847.0 107.2h0M691.7 106.9h0M805.4 108.3h0M664.5 109.8h0M909.8 109.2h0M882.8 105.7h0M896.7 103.9h0M689.5 107.8h0M896.3 103.0h0M686.5 102.5h0M754.6 103.5h0M678.7 109.2h0M798.8 111.0h0M743.2 108.6h0M623.9 111.1h0M691.4 106.7h0M776.8 111.1h0M770.8 111.5h0M810.4 104.2h0M875.6 104.1h0M926.4 106.5h0M689.4 111.2h0M718.6 106.0h0M725.2 108.5h0M627.0 105.7h0M669.7 110.0h0M620.0 107.9h0M699.0 106.5h0M792.2 108.9h0M662.2 104.5h0M656.9 111.2h0M665.7 103.5h0M780.1 107.7h0M891.7 102.7h0M691.8 103.8h0M799.5 106.5h0M745.3 110.6h0M822.8 110.3h0M913.3 104.7h0M908.7 106.0h0M635.8 110.8h0M651.9 102.4h0M708.8 104.9h0M916.4 110.4h0M748.8 107.2h0M880.2 109.8h0M820.3 107.0h0M655.7 104.5h0M821.7 107.7h0M865.5 110.6h0M915.0 104.0h0M643.3 110.6h0M794.8 103.9h0M832.1 104.6h0M692.5 105.6h0M780.6 108.6h0M642.5 109.2h0M811.3 106.6h0M826.0 109.7h0M622.9 106.7h0M827.8 108.9h0M818.5 103.9h0M913.8 109.6h0M691.4 106.2h0M913.6 104.1h0M745.4 111.2h0M895.9 104.4h0M845.4 105.6h0M823.3 109.4h0M659.1 104.3h0M685.9 104.7h0M630.9 103.5h0M744.5 106.2h0M643.8 107.7h0M908.8 107.6h0M729.0 108.8h0M754.0 103.8h0M767.6 102.4h0M827.2 103.7h0M733.3 111.2h0M855.0 110.1h0M816.8 108.2h0M836.1 111.3h0M680.2 109.4h0M712.2 104.6h0M871.8 107.9h0M880.4 110.4h0M800.5 104.1h0M624.6 107.2h0M842.4 104.8h0M641.5 102.2h0M673.1 108.7h0M621.2 104.4h0M701.3 108.9h0M922.6 102.4h0M655.0 111.0h0M917.3 103.6h0M722.8 107.1h0M718.1 106.1h0M766.8 104.6h0M636.9 103.0h0M669.8 103.1h0M811.3 108.7h0M700.6 109.6h0M843.4 105.4h0M770.7 104.0h0M904.7 107.5h0M635.7 103.6h0M832.3 105.8h0M839.8 104.4h0M864.3 109.7h0M648.9 107.7h0M678.6 108.9h0M866.4 109.6h0M690.9 103.1h0M823.3 107.5h0M662.4 104.0h0M798.5 103.2h0M814.3 104.5h0M699.2 106.2h0M783.4 109.0h0M629.5 109.0h0M687.7 104.9h0M816.1 108.7h0M808.4 110.7h0M682.7 105.1h0M823.1 104.7h0M668.2 104.3h0M856.4 110.0h0M839.5 111.2h0M863.5 105.1h0M716.7 109.0h0M637.1 107.9h0M647.3 102.7h0M777.5 103.6h0M905.6 110.4h0M761.5 104.1h0M656.7 107.0h0M779.8 105.6h0M839.6 107.2h0M857.7 103.2h0M641.5 105.8h0M768.2 104.6h0M824.9 104.3h0M717.5 106.7h0M838.3 109.4h0M733.9 106.4h0M904.3 111.0h0M809.6 103.2h0M759.7 108.2h0M705.4 102.6h0M920.7 110.8h0M659.5 106.6h0M809.8 105.0h0M641.0 109.3h0M856.2 106.3h0M646.3 105.9h0M648.8 111.3h0M635.7 104.9h0M855.4 103.5h0M652.7 102.9h0M670.3 107.2h0M875.3 103.8h0M673.2 109.4h0M750.5 105.4h0M657.8 104.5h0M917.8 103.3h0M699.6 109.2h0M893.3 110.7h0M764.9 111.2h0M805.1 104.9h0M762.6 108.9h0M845.0 103.4h0M679.4 111.2h0M652.8 109.8h0M723.9 104.5h0M698.2 106.6h0M923.6 103.6h0M881.9 105.2h0M673.0 109.2h0M724.7 104.0h0M748.2 109.9h0M884.5 107.6h0M623.2 109.4h0M805.9 110.7h0M911.8 105.3h0M880.1 109.9h0M701.5 105.6h0M734.8 105.5h0M735.9 103.2h0M689.6 110.7h0M745.8 108.2h0M892.0 109.3h0M694.9 110.8h0M866.5 111.5h0M843.2 109.3h0M869.2 104.6h0M821.0 105.8h0M877.4 103.5h0M785.2 105.4h0M871.5 105.4h0M878.6 110.2h0M889.4 103.5h0M907.6 109.2h0M827.5 108.3h0M634.7 110.4h0M787.9 106.5h0M724.0 109.6h0M859.8 110.4h0M685.6 105.4h0M696.4 103.1h0M720.3 102.4h0M864.1 104.3h0M641.7 102.8h0M847.1 104.1h0M761.6 106.0h0M865.9 111.2h0M715.0 108.1h0M894.2 106.6h0M895.7 109.1h0M715.5 110.4h0M795.7 103.2h0M800.1 110.0h0M778.9 106.7h0M747.6 110.5h0M824.0 104.2h0M731.1 105.6h0M913.8 108.7h0M658.3 110.8h0M630.7 107.8h0M752.5 108.9h0M751.6 103.1h0M780.5 109.9h0M861.8 105.6h0M688.1 109.2h0M865.7 104.3h0M890.7 111.5h0M752.9 105.8h0M927.5 112.5h0M928.5 114.5h0M926.5 110.8h0" stroke="#568a18" stroke-width="3.1" stroke-linecap="round" fill="none"/>
<path d="M192.9 217.9h0M199.3 219.0h0M206.1 222.9h0M212.5 225.5h0M219.0 226.6h0M225.8 215.0h0M230.8 226.6h0M272.8 226.6h0M261.0 173.1h0M277.5 143.0h0M305.1 199.3h0M313.0 131.5h0M318.1 157.7h0M347.0 161.6h0M353.5 125.0h0M357.5 140.5h0M363.9 150.9h0M351.0 239.8h0M259.8 258.1h0M266.0 273.9h0M311.9 262.3h0M344.5 275.0h0M391.8 118.3h0M410.1 119.7h0M416.6 160.2h0M408.7 170.6h0M427.0 188.9h0M414.0 249.1h0M420.5 264.9h0M475.4 147.0h0M485.8 153.7h0M466.4 182.4h0M479.3 204.6h0M521.2 144.4h0M525.2 150.9h0M560.6 128.7h0M564.3 156.0h0M586.8 178.5h0M603.7 200.7h0M598.6 238.7h0M512.2 254.2h0M518.7 254.2h0M591.9 258.1h0M557.8 266.0h0M472.8 277.8h0M610.1 119.7h0M487.2 94.6h0M504.1 89.6h0M606.5 91.0h0M815.6 79.2h0M815.6 97.4h0M822.0 98.6h0M824.3 98.9h0M826.5 99.2h0M840.0 98.4h0M841.8 99.1h0M823.0 100.5h0M831.3 55.7h0M847.1 64.7h0M851.2 115.6h0M783.6 114.6h0M783.0 62.2h0M771.9 97.3h0M781.0 114.4h0M606.0 90.9h0M821.3 38.0h0M820.9 49.4h0M820.4 62.3h0M820.1 72.8h0M819.9 79.3h0M819.5 88.2h0M819.4 93.3h0M819.2 96.7h0M837.9 41.3h0M838.0 48.0h0M838.4 64.7h0M838.6 74.0h0M838.7 80.5h0M838.8 88.2h0M839.0 93.6h0M839.0 98.0h0" stroke="#d05a1a" stroke-width="2.7" stroke-linecap="round" fill="none"/>
<path d="M159.9 153.7h0M153.5 191.7h0M243.8 229.4h0M250.5 224.3h0M268.8 217.9h0M281.8 169.5h0M288.2 125.9h0M292.2 179.6h0M298.9 145.8h0M324.8 145.8h0M333.0 156.0h0M362.8 126.1h0M351.3 145.8h0M356.0 175.7h0M366.7 163.8h0M330.2 242.6h0M287.1 249.1h0M280.6 284.6h0M349.9 263.5h0M343.4 270.2h0M336.6 281.7h0M389.0 136.6h0M402.2 144.4h0M442.4 131.5h0M454.5 136.6h0M437.7 161.6h0M448.1 211.1h0M440.8 240.1h0M389.0 258.1h0M395.5 258.1h0M434.3 260.9h0M505.2 138.0h0M500.1 191.4h0M493.7 228.3h0M540.9 128.7h0M591.9 160.2h0M532.8 208.6h0M546.0 210.0h0M585.4 191.4h0M572.4 199.3h0M578.9 243.8h0M539.5 251.6h0M487.2 267.4h0M611.5 147.0h0M581.4 117.1h0M610.0 119.4h0M760.4 92.3h0M875.8 70.1h0M907.0 59.5h0M922.5 66.0h0M955.4 117.2h0" stroke="#4a5fa8" stroke-width="2.7" stroke-linecap="round" fill="none"/>
<path d="M302.6 153.7h0M324.8 135.1h0M382.5 134.0h0M445.3 153.7h0M412.6 169.5h0M468.9 126.1h0M504.0 159.1h0M573.6 149.8h0M564.6 93.2h0" stroke="#568a18" stroke-width="2.7" stroke-linecap="round" fill="none"/>
<line x1="144.2" y1="79.6" x2="619.1" y2="79.6" stroke="#b0565c" stroke-width="2.1"/>
<text x="381.7" y="70.5" font-size="29.6" text-anchor="middle" >Deposition</text>
<rect x="105.3" y="37.2" width="870.2" height="397.40000000000003" fill="none" stroke="#565656" stroke-width="1.9"/>
<line x1="144.2" y1="434.6" x2="144.2" y2="424.1" stroke="#222" stroke-width="2"/>
<text x="144.2" y="461.2" font-size="30" text-anchor="middle" >0</text>
<line x1="302.6" y1="434.6" x2="302.6" y2="424.1" stroke="#222" stroke-width="2"/>
<text x="302.6" y="461.2" font-size="30" text-anchor="middle" >200</text>
<line x1="461.2" y1="434.6" x2="461.2" y2="424.1" stroke="#222" stroke-width="2"/>
<text x="461.2" y="461.2" font-size="30" text-anchor="middle" >400</text>
<line x1="619.1" y1="434.6" x2="619.1" y2="424.1" stroke="#222" stroke-width="2"/>
<text x="619.1" y="461.2" font-size="30" text-anchor="middle" >600</text>
<line x1="777.5" y1="434.6" x2="777.5" y2="424.1" stroke="#222" stroke-width="2"/>
<text x="777.5" y="461.2" font-size="30" text-anchor="middle" >800</text>
<line x1="934.7" y1="434.6" x2="934.7" y2="424.1" stroke="#222" stroke-width="2"/>
<text x="934.7" y="461.2" font-size="30" text-anchor="middle" >1000</text>
<line x1="105.3" y1="391.6" x2="115.8" y2="391.6" stroke="#222" stroke-width="2"/>
<text x="86.3" y="408.6" font-size="29.6" text-anchor="end" >10</text>
<text x="86.2" y="389.4" font-size="22.8" text-anchor="start" >5</text>
<line x1="105.3" y1="249.0" x2="115.8" y2="249.0" stroke="#222" stroke-width="2"/>
<text x="86.3" y="266.0" font-size="29.6" text-anchor="end" >10</text>
<text x="86.2" y="246.8" font-size="22.8" text-anchor="start" >6</text>
<text x="86.3" y="123.4" font-size="29.6" text-anchor="end" >10</text>
<text x="86.2" y="104.2" font-size="22.8" text-anchor="start" >7</text>
<text x="538.8" y="490" font-size="30.6" text-anchor="middle" >Time (s)</text>
<g transform="translate(43,393.6) rotate(-90)"><text x="0" y="0" font-size="30">Sheet Resistance (Ω/</text></g>
<rect x="29.6" y="93.6" width="13" height="12.6" fill="none" stroke="#111" stroke-width="1.5"/>
<g transform="translate(43,91.2) rotate(-90)"><text x="0" y="0" font-size="30">)</text></g>
<circle cx="756.6" cy="309.2" r="3.8" fill="#d05a1a"/>
<text x="811.0" y="320.2" font-size="29.8" text-anchor="start" >LAO/STO</text>
<circle cx="756.6" cy="350.4" r="3.8" fill="#4a5fa8"/>
<text x="811.0" y="361.4" font-size="29.8" text-anchor="start" >GAO/STO</text>
<circle cx="756.6" cy="391.6" r="3.8" fill="#568a18"/>
<text x="811.0" y="402.6" font-size="29.8" text-anchor="start" >LSM/STO</text>
<text x="5.5" y="26.3" style="font-family:&quot;Liberation Serif&quot;,serif;font-weight:bold" font-size="38">a)</text>
<line x1="133.7" y1="586.1" x2="133.7" y2="920.6" stroke="#dddddd" stroke-width="1.2"/>
<line x1="308.5" y1="586.1" x2="308.5" y2="920.6" stroke="#dddddd" stroke-width="1.2"/>
<line x1="108.2" y1="892.8" x2="378.3" y2="892.8" stroke="#dddddd" stroke-width="1.2"/>
<line x1="108.2" y1="799.8" x2="378.3" y2="799.8" stroke="#dddddd" stroke-width="1.2"/>
<line x1="108.2" y1="706.7" x2="378.3" y2="706.7" stroke="#dddddd" stroke-width="1.2"/>
<line x1="108.2" y1="613.7" x2="378.3" y2="613.7" stroke="#dddddd" stroke-width="1.2"/>
<line x1="108.2" y1="892.8" x2="120.5" y2="892.8" stroke="#1a1a1a" stroke-width="2.2"/>
<line x1="108.2" y1="799.8" x2="120.5" y2="799.8" stroke="#1a1a1a" stroke-width="2.2"/>
<line x1="108.2" y1="706.7" x2="120.5" y2="706.7" stroke="#1a1a1a" stroke-width="2.2"/>
<line x1="108.2" y1="613.7" x2="120.5" y2="613.7" stroke="#1a1a1a" stroke-width="2.2"/>
<line x1="452.2" y1="586.1" x2="452.2" y2="920.6" stroke="#dddddd" stroke-width="1.2"/>
<line x1="606.5" y1="586.1" x2="606.5" y2="920.6" stroke="#dddddd" stroke-width="1.2"/>
<line x1="413.9" y1="892.8" x2="683.6" y2="892.8" stroke="#dddddd" stroke-width="1.2"/>
<line x1="413.9" y1="799.8" x2="683.6" y2="799.8" stroke="#dddddd" stroke-width="1.2"/>
<line x1="413.9" y1="706.7" x2="683.6" y2="706.7" stroke="#dddddd" stroke-width="1.2"/>
<line x1="413.9" y1="613.7" x2="683.6" y2="613.7" stroke="#dddddd" stroke-width="1.2"/>
<line x1="413.9" y1="892.8" x2="426.2" y2="892.8" stroke="#1a1a1a" stroke-width="2.2"/>
<line x1="413.9" y1="799.8" x2="426.2" y2="799.8" stroke="#1a1a1a" stroke-width="2.2"/>
<line x1="413.9" y1="706.7" x2="426.2" y2="706.7" stroke="#1a1a1a" stroke-width="2.2"/>
<line x1="413.9" y1="613.7" x2="426.2" y2="613.7" stroke="#1a1a1a" stroke-width="2.2"/>
<line x1="754.7" y1="586.1" x2="754.7" y2="920.6" stroke="#dddddd" stroke-width="1.2"/>
<line x1="910.9" y1="586.1" x2="910.9" y2="920.6" stroke="#dddddd" stroke-width="1.2"/>
<line x1="719.0" y1="892.8" x2="989.0" y2="892.8" stroke="#dddddd" stroke-width="1.2"/>
<line x1="719.0" y1="799.8" x2="989.0" y2="799.8" stroke="#dddddd" stroke-width="1.2"/>
<line x1="719.0" y1="706.7" x2="989.0" y2="706.7" stroke="#dddddd" stroke-width="1.2"/>
<line x1="719.0" y1="613.7" x2="989.0" y2="613.7" stroke="#dddddd" stroke-width="1.2"/>
<line x1="719.0" y1="892.8" x2="731.3" y2="892.8" stroke="#1a1a1a" stroke-width="2.2"/>
<line x1="719.0" y1="799.8" x2="731.3" y2="799.8" stroke="#1a1a1a" stroke-width="2.2"/>
<line x1="719.0" y1="706.7" x2="731.3" y2="706.7" stroke="#1a1a1a" stroke-width="2.2"/>
<line x1="719.0" y1="613.7" x2="731.3" y2="613.7" stroke="#1a1a1a" stroke-width="2.2"/>
<rect x="109" y="614.6" width="26" height="5" fill="#4f8a12"/>
<rect x="224" y="614.6" width="153.5" height="5" fill="#4f8a12"/>
<path d="M127.5 620.0h0M114.2 616.0h0M117.6 618.8h0M113.9 617.6h0M122.0 618.3h0M112.7 620.2h0M135.0 617.6h0M129.7 615.2h0M132.7 617.6h0M128.7 619.6h0M118.4 620.0h0M114.4 614.2h0M122.1 619.8h0M132.4 620.2h0M122.3 620.1h0M123.6 614.9h0M125.4 619.2h0M120.0 617.9h0M115.7 615.8h0M119.9 617.3h0M121.2 614.6h0M109.1 616.2h0M127.6 618.9h0M115.2 615.7h0M122.4 615.1h0M124.7 619.9h0M114.3 617.8h0M127.7 618.9h0M127.5 618.6h0M116.1 619.4h0M133.1 614.3h0M133.5 616.9h0M111.2 614.5h0M129.7 618.4h0M112.7 617.0h0M125.6 620.5h0M117.7 619.0h0M115.4 615.3h0M113.2 616.7h0M125.1 616.0h0M113.2 615.4h0M111.2 615.3h0M117.2 617.3h0M113.8 617.1h0M120.4 620.3h0M121.6 620.1h0M121.3 615.3h0M124.4 614.9h0M113.4 614.5h0M127.2 620.3h0M119.5 616.3h0M120.1 616.3h0M127.0 616.5h0M113.0 619.6h0M123.9 614.0h0M131.1 618.7h0M118.2 618.1h0M132.9 616.6h0M120.2 615.9h0M123.4 618.3h0M128.1 620.2h0M112.8 616.4h0M131.1 619.1h0M124.3 618.4h0M117.8 620.1h0M123.3 616.6h0M113.7 614.8h0M132.3 619.2h0M109.7 616.1h0M121.5 617.2h0M118.4 619.8h0M118.1 617.5h0M133.2 618.2h0M121.4 616.2h0M119.1 618.0h0M129.4 615.7h0M118.6 616.5h0M118.4 619.9h0M123.0 615.8h0M117.6 619.3h0M113.2 618.5h0M109.6 615.3h0M110.5 619.2h0M112.8 615.5h0M110.5 615.7h0M128.1 618.7h0M132.7 620.2h0M123.3 620.0h0M111.3 620.0h0M120.3 615.3h0M128.4 619.6h0M119.0 614.6h0M131.7 618.9h0M124.5 620.3h0M110.0 614.4h0M112.2 614.1h0M127.4 618.1h0M111.9 615.1h0M113.7 618.0h0M126.5 620.3h0M118.4 620.4h0M120.3 616.5h0M115.6 615.5h0M134.3 620.5h0M127.4 615.1h0M113.7 615.0h0M118.1 618.8h0M110.5 617.4h0M126.7 614.2h0M120.4 619.1h0M111.2 607.4h0M140.7 687.6h0M211.5 692.1h0M135.4 712.7h0M134.8 727.9h0M134.5 733.8h0M136.9 760.0h0M136.6 764.5h0M136.1 772.3h0M138.4 772.8h0M137.7 777.1h0M140.2 780.9h0M139.6 785.9h0M141.9 786.6h0M144.1 787.4h0M137.4 789.6h0M141.1 792.6h0M144.9 794.1h0M142.6 798.6h0M145.6 800.2h0M148.6 799.4h0M145.6 803.2h0M148.6 804.7h0M151.6 803.9h0M149.8 809.6h0M153.1 807.7h0M146.5 796.0h0M150.5 801.0h0M147.0 807.0h0M152.5 806.0h0M177.0 749.5h0M179.6 747.5h0M207.8 720.2h0M177.4 750.8h0M165.6 765.9h0M195.6 730.9h0M153.9 804.8h0M183.5 740.6h0M168.4 763.2h0M205.4 722.0h0M165.1 767.9h0M194.8 731.2h0M210.2 716.9h0M191.5 735.4h0M157.1 788.4h0M161.1 776.7h0M205.9 721.9h0M190.7 733.7h0M177.7 748.8h0M155.5 796.4h0M161.8 777.5h0M168.7 760.0h0M189.0 736.1h0M172.2 755.5h0M183.3 742.9h0M207.1 722.4h0M167.0 761.4h0M190.5 734.8h0M167.2 764.1h0M155.8 792.9h0M186.8 740.7h0M175.7 751.8h0M181.9 744.1h0M197.2 730.8h0M156.2 795.7h0M154.0 802.6h0M188.1 736.6h0M206.3 722.4h0M196.8 731.0h0M172.6 755.7h0M204.9 722.5h0M160.3 779.2h0M203.0 723.2h0M192.2 733.1h0M199.7 728.1h0M205.0 722.7h0M190.5 736.1h0M198.6 729.8h0M156.4 788.1h0M166.9 764.2h0M170.1 757.9h0M163.8 767.1h0M179.8 749.0h0M166.4 767.1h0M154.8 790.1h0M165.2 765.7h0M154.6 803.3h0M160.7 775.4h0M207.0 720.3h0M206.9 720.1h0M200.4 726.9h0M179.6 748.1h0M159.9 780.0h0M153.5 804.8h0M174.1 755.6h0M183.8 739.7h0M210.1 716.4h0M154.2 806.0h0M208.5 719.8h0M152.7 805.7h0M179.2 747.9h0M158.7 785.4h0M156.0 794.9h0M201.6 726.2h0M207.8 719.8h0M156.0 797.4h0M155.7 793.6h0M155.7 790.7h0M209.6 720.3h0M181.2 744.7h0M188.2 736.4h0M203.7 725.0h0M157.1 789.6h0M195.7 732.3h0M177.5 749.1h0M176.2 751.9h0M167.8 763.2h0M159.8 779.9h0M154.9 796.2h0M163.2 770.2h0M184.8 740.4h0M173.7 754.8h0M157.7 786.7h0M163.8 771.5h0M167.5 762.8h0M206.4 722.1h0M161.4 774.9h0M186.7 738.1h0M155.7 802.0h0M183.5 743.5h0M154.5 799.8h0M155.6 794.0h0M174.0 755.3h0M168.2 761.0h0M204.3 724.5h0M166.5 764.8h0M186.2 739.4h0M160.3 777.4h0M166.3 763.7h0M157.3 789.6h0M210.6 717.2h0M172.5 755.3h0M183.4 741.0h0M162.5 774.7h0M171.2 758.1h0M155.6 791.5h0M178.5 748.9h0M187.9 737.1h0M163.4 772.3h0M188.0 737.6h0M164.6 767.1h0M209.4 718.4h0M155.3 795.0h0M182.9 744.8h0M188.4 737.6h0M184.7 740.8h0M165.4 767.4h0M163.4 771.8h0M199.5 726.4h0M183.5 742.9h0M157.3 784.9h0M162.8 771.0h0M179.1 748.6h0M172.3 755.2h0M184.4 742.1h0M161.0 775.9h0M193.2 732.9h0M205.0 722.6h0M160.7 775.8h0M195.9 730.6h0M158.0 783.4h0M161.4 774.4h0M189.5 736.6h0M193.4 732.0h0M182.0 743.5h0M155.0 799.6h0M207.4 719.5h0M208.8 718.9h0M164.1 771.2h0M189.2 735.9h0M159.7 777.5h0M204.1 724.1h0M168.2 760.9h0M209.3 719.0h0M162.1 775.7h0M163.8 770.0h0M168.4 762.8h0M166.1 767.7h0M168.0 761.1h0M160.7 779.0h0M165.9 766.4h0M191.4 735.1h0M181.5 745.0h0M184.4 740.2h0M158.9 783.6h0M158.6 780.7h0M163.2 772.2h0M182.2 742.7h0M156.0 793.3h0M166.6 763.8h0M156.3 793.5h0M200.2 728.6h0M166.3 766.8h0M196.0 732.0h0M171.4 757.1h0M165.5 767.1h0M193.7 732.6h0M165.9 765.3h0M160.3 777.8h0M211.1 717.5h0M158.8 783.3h0M155.0 796.7h0M173.1 755.7h0M174.3 754.1h0M172.9 754.6h0M200.8 728.7h0M163.8 769.1h0M177.3 750.5h0M207.6 720.4h0M183.0 742.0h0M163.2 770.9h0M168.0 762.6h0M167.1 765.0h0M183.5 741.6h0M159.4 780.6h0M197.3 730.2h0M154.8 804.5h0M185.0 739.2h0M170.8 758.0h0M182.7 742.7h0M183.3 743.8h0M156.6 787.6h0M176.9 751.8h0M181.3 746.0h0M184.2 739.9h0M193.1 732.9h0M169.2 759.7h0M190.7 735.3h0M209.2 718.3h0M155.6 794.5h0M207.2 721.8h0M160.8 777.3h0M197.6 729.8h0M201.9 725.9h0M184.5 739.1h0M158.6 784.0h0M154.3 803.5h0M155.0 798.1h0M156.6 789.3h0M206.2 722.4h0M209.4 717.8h0M162.1 775.8h0M189.4 736.5h0M204.8 722.4h0M201.2 728.2h0M170.2 757.7h0M158.5 784.8h0M190.7 735.0h0M185.8 739.0h0M159.2 782.7h0M173.3 754.6h0M191.2 733.6h0M164.3 769.0h0M189.0 735.7h0M175.3 754.5h0M169.6 757.7h0M157.9 784.3h0M196.7 731.1h0M181.6 744.0h0M178.5 749.5h0M153.7 805.4h0M197.1 729.4h0M182.3 745.5h0M162.2 774.3h0M185.3 739.6h0M185.1 740.5h0M155.0 795.6h0M156.6 791.1h0M166.1 765.9h0M178.6 749.7h0M174.9 752.6h0M199.8 729.3h0M159.1 785.0h0M177.4 749.6h0M193.3 733.9h0M158.3 781.3h0M164.7 767.1h0M182.6 742.9h0M176.4 751.0h0M198.7 728.9h0M212.6 638.9h0M212.2 663.8h0M211.8 692.2h0M213.3 607.7h0M218.4 587.1h0M218.4 591.9h0M220.8 598.1h0M221.4 603.6h0M222.2 608.4h0M223.2 612.5h0M266.0 628.3h0M261.3 614.5h0M261.9 614.6h0M298.4 615.6h0M269.2 617.0h0M280.2 619.1h0M334.3 614.7h0M257.4 614.1h0M273.7 614.7h0M330.4 619.1h0M376.4 615.4h0M228.6 618.9h0M286.4 620.1h0M283.4 616.0h0M234.2 620.2h0M301.9 616.9h0M290.3 619.0h0M350.9 617.1h0M250.4 616.6h0M360.3 616.7h0M324.8 617.6h0M294.0 617.7h0M260.7 617.6h0M356.2 614.5h0M279.8 619.7h0M373.7 614.1h0M319.6 618.1h0M352.8 617.1h0M243.2 616.0h0M332.8 618.7h0M254.5 618.2h0M324.1 618.3h0M226.4 616.9h0M273.0 617.9h0M274.9 614.8h0M326.2 615.9h0M344.8 616.0h0M307.1 619.3h0M240.8 618.8h0M233.5 620.1h0M226.9 618.7h0M279.8 615.2h0M283.8 617.3h0M286.9 614.8h0M303.5 616.0h0M372.0 616.5h0M290.0 615.5h0M372.2 616.1h0M322.5 619.4h0M283.6 618.9h0M265.9 614.7h0M229.5 616.9h0M357.6 615.3h0M290.8 619.0h0M265.5 615.0h0M303.0 616.8h0M367.5 619.8h0M259.7 617.6h0M287.1 614.2h0M291.4 620.0h0M269.6 617.8h0M332.4 614.4h0M365.3 614.7h0M269.4 618.7h0M226.0 616.4h0M242.5 617.1h0M225.4 615.0h0M257.3 614.5h0M236.9 615.3h0M302.7 614.9h0M349.5 616.7h0M261.8 615.6h0M352.3 614.3h0M337.3 614.6h0M368.5 616.7h0M315.0 619.6h0M238.5 614.4h0M329.8 617.8h0M334.0 615.8h0M299.5 615.2h0M290.3 615.8h0M313.2 615.9h0M265.3 618.2h0M236.2 619.2h0M299.3 615.5h0M240.7 617.3h0M300.6 618.7h0M280.6 616.7h0M360.5 615.8h0M374.1 619.8h0M375.5 620.1h0M262.6 619.3h0M317.2 615.3h0M376.6 618.2h0M347.7 617.6h0M235.2 619.6h0M250.0 615.7h0M317.9 615.3h0M294.2 618.6h0M237.8 618.3h0M239.1 617.1h0M323.0 618.5h0M229.6 615.2h0M370.9 616.5h0M288.4 616.4h0M330.2 618.8h0M323.1 616.6h0M310.7 617.4h0M251.9 620.2h0M371.6 619.1h0M375.9 617.0h0M352.2 615.6h0M337.4 618.6h0M367.5 619.4h0M358.4 615.7h0M344.3 617.1h0M271.1 616.4h0M346.0 619.5h0M353.1 618.4h0M249.2 615.0h0M310.5 615.4h0M274.8 614.7h0M246.8 618.7h0M257.4 619.5h0M273.7 619.5h0M269.6 615.7h0M283.8 614.1h0M290.1 616.5h0M224.9 619.6h0M280.8 614.0h0M370.9 615.5h0M262.0 614.2h0M238.3 618.6h0M312.6 617.3h0M260.9 615.9h0M372.4 616.4h0M375.4 619.8h0M242.2 619.5h0M226.2 618.6h0M347.7 618.5h0M307.7 619.3h0M246.8 617.5h0M263.9 616.6h0M252.5 618.6h0M311.3 619.1h0M319.7 617.9h0M365.0 619.3h0M310.3 616.1h0M365.9 616.4h0M238.7 616.2h0M331.8 620.1h0M322.4 618.3h0M367.3 619.1h0M291.6 617.0h0M340.0 616.1h0M239.9 618.0h0M347.6 615.6h0M328.3 619.8h0M242.7 614.9h0M298.9 616.2h0M369.2 620.5h0M291.6 619.2h0M320.3 615.1h0M372.7 615.1h0M234.7 616.9h0M225.7 617.1h0M286.5 620.2h0M286.7 619.5h0M343.1 617.8h0M259.6 616.0h0M298.7 616.6h0M322.4 617.3h0M272.7 617.9h0M376.5 615.3h0M274.7 614.1h0M237.4 614.4h0M288.1 619.4h0M330.4 620.3h0M351.9 617.8h0M312.4 614.1h0M282.1 615.7h0M318.6 614.4h0M306.5 616.4h0M298.8 616.6h0M238.7 618.8h0M346.3 617.9h0M240.8 617.9h0M357.1 620.4h0M339.8 614.3h0M358.3 618.3h0M265.6 620.0h0M350.2 619.8h0M261.1 617.8h0M281.3 615.9h0M340.2 618.0h0M274.1 617.5h0M366.0 617.7h0M363.7 617.7h0M375.8 614.2h0M293.8 617.6h0M334.9 620.3h0M319.0 617.1h0M320.7 617.5h0M331.6 620.2h0M225.1 616.1h0M358.0 614.4h0M344.7 614.2h0M322.8 619.2h0M259.7 616.5h0M257.9 618.6h0M304.4 617.9h0M273.1 617.8h0M370.0 619.1h0M369.6 615.6h0M302.5 616.5h0M276.3 619.2h0M249.9 617.6h0M342.2 620.1h0M225.9 615.8h0M298.9 620.1h0M248.1 619.5h0M284.2 617.6h0M365.9 614.4h0M273.7 615.0h0M243.6 616.0h0M330.9 617.8h0M241.8 619.2h0M301.1 614.9h0M349.3 619.3h0M256.4 620.1h0M347.8 615.5h0M223.2 619.6h0M350.2 614.6h0M341.0 619.0h0M320.6 619.4h0M374.7 616.1h0M351.4 620.0h0M271.3 618.4h0M328.4 619.5h0M310.3 615.8h0M261.8 617.5h0M243.8 619.6h0M359.9 615.6h0M330.4 618.4h0M241.8 619.1h0M341.0 616.0h0M238.1 615.8h0M341.8 617.0h0M348.6 615.0h0M239.4 616.3h0M358.5 615.1h0M234.3 618.9h0M237.1 618.3h0M235.9 615.6h0M325.2 619.7h0M286.0 616.9h0M227.8 616.2h0M260.3 619.1h0M333.0 619.1h0M304.9 618.5h0M242.6 616.5h0M268.1 615.8h0M336.8 615.4h0M273.1 615.8h0M356.1 618.2h0M297.0 616.5h0M364.9 620.1h0M292.2 617.7h0M355.8 615.7h0M262.8 614.7h0M300.3 619.0h0M247.1 616.8h0M375.6 617.1h0M281.9 619.5h0M360.4 616.4h0M242.0 618.1h0M337.0 620.0h0M324.7 616.0h0M302.3 615.9h0M291.7 617.0h0M363.5 619.9h0M365.7 617.1h0M371.5 614.9h0M364.8 618.2h0M357.4 616.7h0M375.6 614.2h0M353.6 619.3h0M280.6 619.4h0M255.9 618.9h0M295.1 616.7h0M253.3 619.2h0M335.6 614.6h0M373.6 615.4h0M280.8 616.7h0M311.8 619.8h0M368.6 618.1h0M279.3 614.7h0M233.6 617.4h0M312.8 616.9h0M374.3 616.7h0M277.1 616.7h0M249.5 620.1h0M314.0 617.5h0M288.6 615.6h0M271.6 617.2h0M291.7 620.4h0M309.7 615.3h0M231.3 615.0h0M276.3 619.1h0M359.9 615.5h0M343.2 616.9h0M305.8 617.5h0M229.6 614.4h0M325.8 618.5h0M281.6 620.0h0M349.3 616.0h0M233.3 617.6h0M323.8 615.5h0M229.8 617.2h0M228.3 618.8h0M319.3 615.8h0M291.6 615.5h0M251.6 615.2h0M348.6 616.9h0M333.2 616.3h0M347.3 617.9h0M323.7 616.6h0M309.5 615.2h0M373.0 618.4h0M305.0 618.2h0M238.4 616.2h0" stroke="#4f8a12" stroke-width="3.0" stroke-linecap="round" fill="none"/>
<rect x="414.5" y="617" width="38" height="6.5" fill="#c9520f"/>
<rect x="572" y="619.3" width="111" height="5.2" fill="#c9520f"/>
<path d="M423.4 623.2h0M415.0 619.8h0M447.9 622.7h0M442.2 618.6h0M423.4 622.0h0M426.0 622.1h0M428.0 622.5h0M436.6 622.9h0M452.4 619.2h0M452.5 616.1h0M448.3 616.3h0M435.5 619.3h0M444.1 618.7h0M422.5 622.7h0M435.7 622.4h0M433.3 616.3h0M444.2 617.9h0M432.7 616.0h0M424.5 621.7h0M443.9 621.4h0M431.6 622.2h0M440.3 617.8h0M435.1 621.1h0M442.6 617.7h0M426.5 618.9h0M418.2 619.0h0M442.6 620.9h0M421.2 622.2h0M419.0 622.4h0M420.2 616.8h0M424.2 620.4h0M424.9 623.5h0M450.6 618.4h0M443.4 621.9h0M436.1 618.2h0M451.1 624.1h0M415.0 618.8h0M426.9 617.7h0M431.1 623.6h0M415.4 623.1h0M426.4 616.1h0M449.1 618.3h0M422.7 617.0h0M428.6 617.0h0M421.4 618.1h0M436.8 619.8h0M426.2 620.5h0M444.3 622.2h0M427.7 623.8h0M445.0 620.8h0M432.8 618.8h0M419.7 623.5h0M437.9 616.8h0M450.1 623.5h0M415.8 622.0h0M423.7 620.6h0M446.6 619.0h0M433.7 621.7h0M421.9 621.3h0M430.9 624.4h0M421.7 622.0h0M416.1 618.3h0M419.0 617.3h0M434.8 617.5h0M445.1 616.8h0M438.5 623.3h0M419.4 617.8h0M443.9 620.0h0M450.4 618.9h0M429.8 624.1h0M427.7 624.2h0M448.8 617.7h0M435.5 624.0h0M419.0 623.2h0M444.3 622.4h0M437.6 616.8h0M451.4 616.9h0M444.7 622.1h0M426.7 621.8h0M430.3 622.4h0M416.2 623.9h0M429.3 622.8h0M432.7 622.9h0M426.1 620.6h0M415.5 620.2h0M417.5 623.3h0M440.6 619.6h0M452.0 624.0h0M451.3 616.7h0M441.6 622.2h0M437.8 616.1h0M450.1 619.7h0M437.4 622.9h0M425.1 616.2h0M450.1 618.3h0M416.1 617.2h0M452.8 622.3h0M422.6 617.2h0M449.1 621.7h0M436.9 617.1h0M430.4 624.0h0M414.6 619.6h0M416.7 624.5h0M418.5 624.1h0M446.9 622.2h0M416.1 621.9h0M433.5 620.2h0M420.1 620.4h0M445.4 617.1h0M448.2 619.6h0M424.7 618.0h0M432.2 621.5h0M436.4 623.6h0M434.2 620.4h0M452.6 617.8h0M415.1 618.8h0M426.6 617.1h0M430.6 616.3h0M450.0 620.1h0M448.3 621.9h0M442.6 622.4h0M426.1 622.2h0M422.4 620.7h0M437.4 622.6h0M421.0 618.9h0M446.2 622.8h0M452.2 617.0h0M422.6 616.9h0M442.4 622.3h0M439.5 622.6h0M434.4 620.8h0M450.0 621.5h0M439.8 621.0h0M433.5 622.4h0M436.5 617.1h0M430.9 619.6h0M431.1 620.8h0M428.4 619.3h0M430.9 619.2h0M451.9 616.8h0M415.2 622.1h0M429.7 619.8h0M437.3 619.1h0M423.7 616.1h0M448.1 624.0h0M425.5 620.0h0M427.0 616.5h0M448.9 623.1h0M423.8 618.2h0M441.4 622.8h0M432.6 619.3h0M423.5 622.8h0M447.7 623.3h0M418.9 621.0h0M452.4 622.1h0M432.2 617.2h0M416.8 622.2h0M417.1 622.9h0M440.1 620.0h0M448.8 623.9h0M438.2 616.8h0M437.2 619.6h0M424.1 623.9h0M442.6 617.0h0M423.3 618.9h0M436.6 618.8h0M431.4 622.9h0M421.5 622.1h0M427.2 624.0h0M451.1 618.8h0M437.8 616.9h0M430.3 621.3h0M439.1 618.9h0M415.8 617.1h0M436.1 617.5h0M426.3 621.3h0M449.2 620.4h0M424.3 621.0h0M425.1 622.6h0M420.5 618.2h0M431.4 623.7h0M420.9 617.6h0M419.6 617.8h0M427.3 619.4h0M443.7 619.4h0M432.8 619.4h0M444.3 623.7h0M430.9 623.8h0M424.1 624.3h0M434.7 621.8h0M429.2 618.3h0M419.7 623.5h0M428.3 621.9h0M432.2 620.5h0M422.5 617.5h0M427.4 621.8h0M435.4 616.0h0M441.9 619.7h0M417.2 618.2h0M422.6 623.0h0M448.9 592.8h0M453.3 784.7h0M454.1 779.0h0M453.0 789.0h0M452.5 791.7h0M455.2 773.3h0M453.8 783.3h0M453.9 783.1h0M452.8 789.1h0M452.4 795.1h0M454.5 774.2h0M452.6 792.2h0M455.0 775.2h0M453.0 786.1h0M455.5 778.9h0M454.7 772.7h0M453.5 776.6h0M454.7 778.2h0M452.8 786.7h0M452.9 791.9h0M453.8 777.4h0M453.3 783.4h0M454.6 782.8h0M455.0 772.7h0M453.4 785.3h0M454.7 778.0h0M454.5 773.6h0M454.3 781.8h0M454.3 779.4h0M454.2 781.4h0M453.0 784.2h0M453.2 790.2h0M453.3 792.1h0M452.0 789.0h0M453.7 785.1h0M455.2 773.9h0M453.6 781.1h0M453.3 787.0h0M452.5 792.1h0M452.7 788.7h0M454.6 780.5h0M457.7 817.4h0M457.2 815.6h0M455.7 824.9h0M458.3 816.3h0M457.0 819.6h0M456.3 823.9h0M459.2 813.2h0M459.1 810.7h0M456.7 819.1h0M458.2 819.9h0M459.2 812.9h0M457.2 819.9h0M456.1 825.1h0M458.3 814.1h0M457.4 818.6h0M458.0 818.3h0M457.3 816.9h0M456.1 824.8h0M458.0 814.8h0M455.8 823.8h0M456.2 821.4h0M455.2 822.9h0M459.6 810.3h0M457.6 818.0h0M457.7 815.0h0M458.5 816.4h0M459.0 811.5h0M457.0 819.8h0M458.5 818.1h0M455.8 823.4h0M458.3 837.0h0M463.9 824.2h0M462.0 827.4h0M459.2 837.1h0M463.8 823.0h0M458.6 839.3h0M459.4 838.3h0M458.3 836.8h0M459.5 832.5h0M460.4 829.2h0M459.1 834.4h0M458.9 833.9h0M462.9 825.8h0M461.3 827.5h0M458.5 836.4h0M459.0 841.4h0M458.5 836.4h0M461.2 828.0h0M458.6 837.3h0M462.0 824.0h0M457.4 842.1h0M463.3 824.2h0M459.5 836.0h0M462.8 824.9h0M462.7 825.8h0M457.5 835.6h0M463.1 824.7h0M462.3 827.4h0M462.7 825.6h0M459.8 832.8h0M461.4 831.3h0M458.2 841.7h0M460.3 841.7h0M460.5 828.0h0M463.6 824.2h0M457.0 837.9h0M460.4 828.0h0M457.9 834.9h0M458.6 839.5h0M459.2 832.6h0M462.2 825.6h0M458.4 834.9h0M459.1 844.2h0M458.4 842.1h0M462.3 826.3h0M458.3 842.8h0M459.4 836.3h0M457.2 837.9h0M459.4 839.8h0M458.6 842.1h0M462.8 824.7h0M459.5 834.5h0M460.2 830.6h0M459.2 840.4h0M459.4 834.3h0M460.8 828.3h0M457.7 840.4h0M458.3 834.2h0M459.6 831.5h0M458.0 833.8h0M462.7 823.9h0M457.9 838.4h0M457.8 836.5h0M459.5 835.4h0M460.5 830.2h0M459.0 836.6h0M457.7 837.6h0M460.9 830.5h0M458.4 843.7h0M459.8 835.0h0M460.5 832.0h0M459.5 835.1h0M459.5 831.0h0M461.8 828.1h0M459.2 836.6h0M458.1 843.7h0M462.4 828.2h0M458.2 835.6h0M460.4 834.7h0M462.4 824.6h0M459.6 841.0h0M460.1 829.8h0M459.3 837.9h0M458.0 843.8h0M459.7 842.1h0M462.3 827.5h0M458.3 840.3h0M461.5 827.7h0M459.3 844.1h0M461.3 827.2h0M546.5 801.4h0M464.3 823.8h0M537.6 800.5h0M559.3 797.4h0M558.0 800.5h0M483.1 814.6h0M560.1 799.9h0M475.3 817.2h0M528.7 802.7h0M492.9 811.5h0M531.0 802.3h0M544.9 799.6h0M500.8 808.6h0M471.0 818.8h0M466.9 819.6h0M522.1 805.7h0M542.2 800.6h0M516.0 805.6h0M477.0 815.5h0M553.9 800.7h0M511.9 806.7h0M512.1 806.0h0M517.1 804.0h0M538.6 801.5h0M558.5 799.1h0M472.9 819.2h0M475.5 817.3h0M463.7 824.6h0M482.2 814.5h0M484.7 814.2h0M496.4 810.1h0M543.8 799.9h0M463.6 825.9h0M506.5 809.3h0M550.2 801.2h0M516.9 805.8h0M521.4 803.1h0M521.9 804.5h0M465.5 821.4h0M552.2 801.1h0M477.9 816.2h0M546.9 799.1h0M499.2 809.1h0M517.2 804.4h0M500.0 810.4h0M480.0 815.8h0M523.4 803.0h0M545.5 800.2h0M514.0 806.5h0M476.7 817.0h0M548.6 800.2h0M481.8 813.4h0M466.4 823.1h0M521.7 805.3h0M483.9 812.8h0M495.4 810.2h0M500.9 807.9h0M559.2 798.3h0M530.3 800.8h0M557.4 799.0h0M516.4 805.3h0M538.5 803.0h0M507.9 807.5h0M536.1 802.2h0M540.0 802.7h0M510.8 806.4h0M497.3 810.2h0M513.3 806.3h0M509.2 807.3h0M504.1 808.8h0M512.8 806.3h0M462.4 822.0h0M488.3 812.9h0M532.7 802.3h0M464.1 824.2h0M496.6 810.3h0M555.7 800.2h0M555.8 798.8h0M542.9 801.3h0M554.8 799.5h0M468.7 819.1h0M524.0 805.9h0M497.0 811.7h0M483.0 815.0h0M558.9 800.0h0M540.6 801.8h0M538.0 799.9h0M473.8 817.0h0M539.6 801.6h0M508.0 807.7h0M510.4 806.9h0M546.0 799.8h0M475.3 816.5h0M472.1 820.1h0M531.2 802.4h0M547.5 800.4h0M467.7 820.6h0M485.6 814.3h0M517.4 805.1h0M475.1 815.6h0M492.6 809.5h0M552.8 800.1h0M498.6 809.4h0M534.9 801.9h0M512.8 806.1h0M506.2 808.4h0M512.1 805.6h0M488.8 812.3h0M522.6 805.3h0M503.3 808.1h0M548.0 800.9h0M471.1 819.3h0M556.6 800.9h0M464.8 821.9h0M470.4 817.8h0M494.0 809.6h0M473.7 817.7h0M485.5 810.9h0M557.5 799.3h0M539.4 800.3h0M559.5 799.2h0M483.4 815.1h0M522.6 804.0h0M464.7 823.3h0M487.5 812.4h0M540.4 800.7h0M522.3 804.5h0M521.7 803.2h0M473.0 819.1h0M470.3 819.8h0M538.9 801.1h0M556.0 799.4h0M517.3 804.4h0M501.3 806.8h0M524.5 805.0h0M491.2 811.3h0M464.0 822.8h0M520.5 803.6h0M522.9 804.8h0M510.6 806.3h0M535.7 801.8h0M487.2 811.3h0M554.1 800.4h0M525.2 804.3h0M527.5 804.1h0M528.9 803.9h0M538.3 800.3h0M471.9 818.8h0M465.0 821.2h0M550.7 799.4h0M506.4 807.3h0M507.7 807.0h0M463.0 824.4h0M521.4 804.1h0M553.0 799.7h0M465.3 821.0h0M525.1 803.7h0M506.1 806.6h0M468.3 822.8h0M515.4 806.9h0M553.6 799.1h0M541.8 801.8h0M540.9 801.7h0M546.7 800.6h0M466.2 819.4h0M522.2 803.9h0M518.1 805.7h0M475.9 816.5h0M524.6 802.0h0M538.6 802.6h0M515.5 805.2h0M469.7 818.6h0M556.7 799.1h0M508.9 808.1h0M530.4 802.9h0M502.2 807.8h0M475.6 816.3h0M468.3 822.6h0M487.6 811.8h0M468.3 819.1h0M539.3 802.0h0M520.8 804.4h0M513.0 807.5h0M473.5 818.9h0M515.5 805.0h0M508.6 807.6h0M464.9 822.9h0M561.0 798.7h0M477.5 815.5h0M539.9 800.2h0M534.1 804.0h0M514.5 803.9h0M485.5 813.5h0M470.6 818.4h0M507.4 806.3h0M468.0 821.0h0M512.9 805.9h0M482.8 813.2h0M556.1 798.6h0M487.9 812.3h0M497.4 810.5h0M556.0 798.9h0M488.6 812.3h0M544.9 800.6h0M554.8 799.1h0M502.0 807.6h0M547.6 800.2h0M464.2 822.1h0M526.0 803.8h0M549.4 801.2h0M558.1 800.9h0M466.8 819.8h0M477.1 813.7h0M543.4 798.9h0M530.1 802.1h0M539.8 800.3h0M478.5 816.1h0M546.2 800.0h0M560.0 799.6h0M495.4 812.0h0M494.9 811.2h0M512.8 805.1h0M507.1 807.3h0M512.2 806.1h0M474.2 816.5h0M505.6 809.0h0M475.3 816.7h0M525.6 804.3h0M502.5 807.4h0M501.2 809.2h0M489.4 812.1h0M473.7 816.8h0M533.7 802.9h0M497.6 809.5h0M503.1 809.2h0M488.3 811.4h0M530.7 803.8h0M515.6 804.0h0M503.6 808.5h0M476.2 817.1h0M525.2 805.3h0M484.3 814.2h0M475.2 815.5h0M486.4 811.8h0M502.1 807.4h0M505.2 808.5h0M553.9 800.9h0M470.8 816.9h0M497.0 810.4h0M486.1 813.6h0M526.5 803.0h0M558.1 798.1h0M544.5 801.0h0M558.8 798.7h0M521.2 804.6h0M475.1 816.4h0M474.4 816.5h0M547.5 801.8h0M488.7 811.8h0M524.1 803.5h0M468.6 819.4h0M542.1 801.7h0M491.4 810.9h0M523.9 804.1h0M530.5 802.8h0M508.5 806.9h0M514.9 805.9h0M467.7 820.6h0M495.1 810.9h0M554.1 799.3h0M519.9 804.3h0M465.9 821.5h0M516.9 805.2h0M476.8 814.9h0M558.8 798.5h0M465.3 822.9h0M547.7 801.2h0M508.1 808.1h0M468.8 819.2h0M531.0 804.1h0M521.3 802.0h0M489.8 811.0h0M550.4 799.0h0M520.0 806.6h0M558.0 799.4h0M541.6 799.5h0M539.4 801.6h0M539.0 800.4h0M547.7 800.7h0M508.3 808.5h0M471.0 818.3h0M474.7 815.6h0M500.4 808.0h0M553.9 799.8h0M505.3 808.3h0M471.8 815.8h0M535.4 801.6h0M472.3 818.9h0M548.6 800.1h0M535.4 801.1h0M546.4 801.6h0M511.5 805.3h0M491.5 810.9h0M502.5 809.5h0M529.9 803.9h0M512.0 807.0h0M487.2 811.4h0M482.2 814.7h0M477.2 815.4h0M466.5 822.6h0M477.8 817.5h0M504.9 809.2h0M471.3 817.6h0M469.7 818.5h0M533.1 800.8h0M521.1 805.0h0M530.6 802.5h0M501.8 809.6h0M546.0 800.1h0M536.4 803.1h0M496.8 809.7h0M527.7 805.0h0M476.6 817.8h0M557.2 801.3h0M466.9 821.6h0M466.1 821.4h0M535.8 802.0h0M497.2 810.6h0M495.0 809.3h0M557.1 799.3h0M552.9 799.4h0M513.3 806.8h0M483.3 815.2h0M493.2 809.8h0M544.5 802.0h0M510.5 805.9h0M528.5 803.8h0M519.1 805.4h0M536.7 802.2h0M514.5 804.8h0M506.4 807.4h0M468.5 819.6h0M519.0 805.4h0M484.7 813.1h0M548.2 799.8h0M517.8 805.5h0M524.1 804.8h0M509.4 806.1h0M550.9 800.0h0M542.6 800.6h0M532.5 801.2h0M469.4 819.2h0M539.9 800.3h0M551.4 797.5h0M554.8 799.1h0M526.3 804.0h0M511.2 807.2h0M545.5 799.7h0M527.8 803.0h0M527.8 803.5h0M557.5 800.7h0M469.5 821.2h0M466.4 820.4h0M546.9 802.9h0M495.4 810.4h0M514.4 805.2h0M463.6 824.2h0M542.6 803.5h0M528.5 804.6h0M492.0 811.1h0M543.7 799.8h0M528.9 803.5h0M493.0 809.8h0M474.8 818.1h0M465.4 823.4h0M475.1 816.7h0M535.3 801.3h0M515.7 805.6h0M499.8 809.1h0M555.4 800.8h0M491.0 809.6h0M530.3 805.7h0M530.6 802.4h0M470.8 817.0h0M537.6 801.3h0M508.0 808.4h0M498.9 809.3h0M519.6 804.2h0M488.4 812.8h0M545.5 800.6h0M498.1 808.9h0M558.9 799.6h0M468.7 821.2h0M464.4 824.2h0M528.6 803.6h0M494.0 811.1h0M472.4 816.2h0M467.3 819.8h0M524.7 805.4h0M472.2 819.9h0M484.4 813.2h0M468.2 822.0h0M475.1 815.4h0M483.3 813.8h0M546.3 799.6h0M524.1 804.9h0M536.8 801.5h0M509.5 805.6h0M487.8 812.3h0M461.7 823.5h0M532.4 803.7h0M517.6 804.3h0M510.4 804.6h0M512.1 804.9h0M473.3 818.3h0M495.1 810.2h0M560.0 798.5h0M530.6 802.6h0M524.0 803.8h0M548.2 799.8h0M476.0 815.7h0M494.0 810.6h0M551.0 799.6h0M478.6 815.6h0M480.7 815.1h0M508.8 808.2h0M501.5 810.1h0M495.2 811.2h0M536.1 801.4h0M487.0 812.2h0M556.2 798.7h0M467.2 821.9h0M559.1 800.6h0M471.1 819.1h0M541.4 800.6h0M486.1 813.7h0M470.1 819.8h0M552.4 799.4h0M557.6 800.1h0M498.7 809.0h0M537.4 801.0h0M494.6 810.8h0M530.8 802.4h0M480.7 815.3h0M545.1 800.3h0M533.7 802.7h0M486.6 811.4h0M528.6 803.4h0M524.1 803.8h0M544.7 800.4h0M510.9 804.4h0M523.5 803.6h0M510.4 807.1h0M501.3 809.4h0M482.4 815.4h0M547.0 801.0h0M472.3 817.2h0M537.8 801.9h0M555.3 798.9h0M496.1 811.2h0M501.9 807.9h0M534.3 801.3h0M476.0 817.0h0M520.0 805.0h0M530.5 801.4h0M484.6 813.1h0M524.6 803.7h0M539.0 801.8h0M514.5 806.3h0M527.2 803.1h0M511.3 806.0h0M550.3 800.1h0M482.2 814.9h0M501.6 806.3h0M517.0 805.0h0M526.9 803.6h0M466.2 823.9h0M472.5 818.8h0M513.2 806.2h0M527.5 803.5h0M505.5 809.8h0M467.3 821.5h0M516.9 805.1h0M471.8 817.6h0M557.7 798.4h0M485.4 813.4h0M497.9 809.3h0M503.4 808.4h0M510.9 804.8h0M532.7 803.3h0M480.8 814.6h0M480.7 815.7h0M535.9 802.5h0M472.9 817.9h0M522.8 802.4h0M505.3 807.6h0M537.2 800.2h0M477.2 817.0h0M520.6 803.9h0M517.7 805.0h0M543.5 800.8h0M503.4 808.5h0M474.5 817.7h0M479.2 815.1h0M545.9 799.8h0M549.6 799.4h0M484.4 813.0h0M544.3 801.4h0M493.4 811.1h0M559.4 799.5h0M557.1 799.5h0M517.1 806.8h0M509.0 804.8h0M522.1 803.0h0M474.1 817.2h0M480.1 815.2h0M474.5 817.1h0M520.9 805.1h0M524.0 803.9h0M530.7 802.1h0M560.3 773.6h0M560.7 773.5h0M560.7 743.7h0M560.7 725.0h0M560.7 711.9h0M560.7 706.0h0M561.0 697.3h0M561.0 692.0h0M561.1 686.0h0M561.2 681.0h0M561.3 678.8h0M562.8 662.9h0M562.2 660.4h0M562.7 665.1h0M562.8 650.7h0M563.4 649.2h0M561.5 676.2h0M563.7 645.3h0M563.0 660.7h0M563.0 660.2h0M562.0 675.5h0M563.6 644.3h0M562.8 651.4h0M561.9 676.2h0M563.6 649.2h0M563.8 647.6h0M561.7 675.0h0M562.0 673.1h0M562.9 658.0h0M562.4 674.2h0M563.4 661.0h0M562.1 670.1h0M562.6 655.9h0M562.9 651.3h0M563.0 654.8h0M562.9 661.1h0M562.8 662.2h0M563.1 645.1h0M563.5 644.6h0M562.1 673.2h0M563.8 646.3h0M563.0 645.4h0M562.8 657.3h0M562.9 652.4h0M562.7 658.6h0M562.9 647.7h0M562.9 650.1h0M562.2 662.9h0M563.2 648.2h0M562.6 669.6h0M562.7 652.1h0M569.8 616.9h0M571.7 619.9h0M569.0 609.6h0M569.0 611.4h0M567.4 599.4h0M569.3 616.1h0M567.9 599.0h0M569.2 612.0h0M569.5 611.4h0M572.4 621.5h0M569.3 614.5h0M570.2 618.0h0M570.3 615.1h0M570.3 619.6h0M571.3 617.7h0M568.1 608.0h0M567.3 599.8h0M569.8 616.6h0M569.7 617.0h0M571.2 620.8h0M569.5 610.0h0M568.0 606.0h0M568.8 602.2h0M570.1 616.4h0M568.7 607.9h0M572.0 621.8h0M567.9 599.7h0M570.2 614.9h0M567.9 604.8h0M569.4 610.5h0M567.7 600.1h0M570.8 616.9h0M571.2 619.9h0M568.1 598.2h0M568.7 609.7h0M568.2 603.5h0M567.8 601.0h0M568.4 606.1h0M570.2 607.2h0M568.2 602.0h0M569.0 610.1h0M571.6 620.0h0M568.0 601.5h0M568.6 609.7h0M572.9 621.7h0M570.3 614.8h0M571.6 619.7h0M568.9 602.1h0M571.0 617.4h0M567.8 598.2h0M569.5 606.4h0M572.3 622.1h0M569.3 605.4h0M569.2 609.1h0M568.7 609.1h0M570.8 616.2h0M570.7 619.6h0M571.4 618.0h0M570.7 614.8h0M571.7 621.4h0M563.5 635.3h0M564.0 626.5h0M564.0 617.8h0M564.0 609.1h0M564.4 596.1h0M564.4 587.4h0M568.3 593.9h0M572.2 597.2h0M568.3 600.4h0M569.4 611.3h0M570.5 621.1h0M572.7 624.4h0M648.9 600.4h0M650.0 610.2h0M655.4 610.2h0M569.0 604.0h0M569.8 616.0h0M571.8 622.0h0M610.8 618.6h0M682.2 620.6h0M675.4 618.7h0M611.3 623.6h0M646.4 622.9h0M625.7 619.2h0M664.1 623.5h0M624.5 622.2h0M661.0 621.8h0M624.3 621.7h0M653.4 623.3h0M608.5 623.6h0M613.1 622.9h0M613.3 624.4h0M676.3 623.6h0M613.7 620.8h0M619.5 622.5h0M574.8 622.1h0M675.0 619.0h0M670.8 622.3h0M682.7 623.2h0M651.5 623.4h0M618.2 619.4h0M666.7 624.2h0M651.8 620.0h0M626.9 621.9h0M611.8 621.7h0M622.2 624.9h0M641.2 624.8h0M672.7 619.7h0M657.4 621.0h0M637.9 622.2h0M653.9 620.5h0M646.9 621.0h0M658.6 621.8h0M643.1 625.0h0M602.4 618.6h0M671.3 622.0h0M643.4 623.9h0M670.7 621.1h0M681.6 621.1h0M652.4 623.9h0M611.6 621.3h0M612.0 620.8h0M617.1 624.0h0M577.8 624.9h0M659.5 622.2h0M642.9 620.5h0M656.6 624.2h0M613.8 621.8h0M595.5 620.2h0M666.4 622.7h0M621.1 622.7h0M591.7 618.6h0M611.0 622.3h0M591.7 622.1h0M607.4 620.3h0M653.9 620.9h0M654.1 623.4h0M613.1 618.8h0M665.4 622.1h0M636.0 623.0h0M632.4 624.4h0M572.0 624.8h0M640.0 621.2h0M672.6 624.3h0M637.8 618.7h0M640.8 621.2h0M635.3 623.9h0M585.8 624.0h0M605.8 620.2h0M575.2 619.3h0M601.0 622.0h0M676.3 619.7h0M603.4 621.0h0M642.7 620.9h0M646.0 619.6h0M575.9 622.3h0M652.1 619.5h0M576.4 622.9h0M578.3 624.5h0M648.3 619.6h0M616.9 619.0h0M580.8 620.9h0M669.3 624.4h0M655.4 622.7h0M636.4 621.9h0M644.5 621.8h0M615.5 624.0h0M604.7 621.2h0M647.1 624.8h0M609.6 621.4h0M616.0 619.9h0M610.7 623.7h0M592.0 621.7h0M602.8 622.3h0M657.6 619.3h0M625.5 619.8h0M643.4 622.9h0M595.8 620.1h0M604.9 620.7h0M671.0 624.2h0M659.6 621.1h0M622.2 619.9h0M622.5 624.7h0M581.2 621.1h0M592.9 624.0h0M604.8 621.7h0M576.8 623.0h0M628.6 623.7h0M651.8 623.4h0M600.4 620.2h0M637.9 618.9h0M675.9 623.2h0M626.3 620.9h0M579.7 622.1h0M657.6 619.4h0M582.1 623.0h0M623.6 623.7h0M617.1 624.9h0M668.7 620.7h0M631.1 622.4h0M621.4 623.8h0M650.0 623.8h0M599.3 621.8h0M631.9 622.3h0M572.8 623.8h0M621.2 619.6h0M666.8 622.2h0M653.9 623.3h0M640.7 624.5h0M577.3 620.7h0M589.3 622.7h0M595.6 618.8h0M586.3 619.7h0M631.5 621.5h0M623.0 618.7h0M630.2 620.2h0M581.2 619.0h0M587.9 621.2h0M589.7 621.6h0M589.3 623.3h0M669.1 620.7h0M579.0 624.8h0M580.4 622.8h0M655.7 621.7h0M670.8 619.5h0M651.7 624.4h0M671.5 624.0h0M619.9 621.9h0M666.1 621.0h0M599.6 618.8h0M593.9 619.5h0M675.1 620.6h0M610.5 624.8h0M648.4 621.4h0M582.8 620.9h0M603.6 624.7h0M618.1 624.8h0M601.3 618.9h0M671.7 619.1h0M659.3 622.4h0M602.8 623.9h0M619.1 624.9h0M633.5 624.6h0M675.2 621.0h0M648.4 623.3h0M644.4 618.7h0M648.1 623.5h0M592.7 619.2h0M578.6 622.1h0M582.9 624.0h0M617.5 625.0h0M653.2 621.3h0M591.5 621.3h0M639.0 624.1h0M670.9 620.7h0M573.6 622.9h0M648.0 622.7h0M661.0 623.8h0M641.1 623.9h0M585.0 624.7h0M645.6 619.2h0M589.9 622.7h0M605.3 624.6h0M602.2 621.7h0M627.4 624.6h0M605.0 624.3h0M652.0 622.2h0M677.0 624.3h0M654.9 622.1h0M575.9 620.0h0M643.9 619.3h0M643.0 620.8h0M614.4 623.9h0M665.2 623.4h0M621.0 622.0h0M681.4 624.5h0M639.1 619.1h0M672.0 618.9h0M584.1 622.8h0M593.0 623.4h0M647.9 619.7h0M672.7 625.0h0M644.6 624.9h0M660.7 621.6h0M663.3 624.6h0M649.0 619.1h0M612.7 623.1h0M612.0 619.7h0M622.1 619.5h0M624.1 619.2h0M652.4 620.0h0M675.8 619.3h0M641.7 622.7h0M593.3 622.6h0M632.5 622.5h0M591.7 621.7h0M664.6 622.6h0M598.3 620.7h0M669.5 618.9h0M624.5 621.9h0M619.2 618.6h0M582.9 624.0h0M622.0 620.5h0M621.6 618.9h0M580.1 623.9h0M656.1 619.9h0M606.6 619.1h0M606.6 621.9h0M655.3 621.8h0M665.9 625.0h0M634.5 618.9h0M586.1 622.9h0M585.6 624.4h0M577.1 619.0h0M682.5 621.2h0M633.2 622.4h0M584.3 620.7h0M612.3 623.3h0M658.6 623.0h0M591.2 621.6h0M673.6 619.7h0M610.1 622.5h0M682.5 618.8h0M648.4 621.6h0M630.2 624.0h0M581.7 622.4h0M606.5 623.4h0M651.0 621.3h0M588.0 623.5h0M649.5 622.2h0M654.5 624.7h0M598.4 623.0h0M661.4 620.3h0M672.1 620.6h0M678.1 622.3h0M680.0 624.3h0M658.6 621.0h0M622.3 622.4h0M661.2 621.3h0M671.7 620.0h0M629.3 619.5h0M590.1 620.5h0M576.3 622.2h0M640.5 621.1h0M660.3 622.1h0M647.5 619.1h0M607.9 618.7h0M588.9 624.0h0M586.2 622.4h0M613.3 622.9h0M668.6 623.9h0M679.1 624.8h0M615.6 624.9h0M656.4 620.4h0M607.8 622.0h0M665.7 619.2h0M670.8 622.9h0M637.4 621.2h0M613.7 621.2h0M651.2 621.4h0M650.9 624.2h0M580.7 618.7h0M676.4 619.8h0M662.2 621.2h0M596.2 618.7h0M619.0 622.4h0M577.1 618.7h0M603.2 624.2h0M655.0 620.2h0M616.2 621.3h0M650.4 620.4h0M610.8 621.8h0M597.6 621.3h0M654.7 621.8h0M577.3 620.8h0M634.9 620.1h0M614.4 622.2h0M611.8 619.8h0M669.0 619.0h0M672.5 619.2h0M633.0 622.1h0M616.9 622.6h0M669.9 620.6h0M577.7 619.9h0M669.4 622.4h0M655.5 621.1h0M607.3 623.0h0M634.6 624.4h0M589.0 620.8h0M648.4 624.4h0M623.3 623.6h0M583.3 622.7h0M607.9 623.0h0M604.3 619.8h0M601.1 623.2h0M650.8 624.4h0M617.3 619.0h0M661.6 620.2h0M651.4 621.7h0M620.7 618.8h0M596.4 623.4h0M622.5 624.2h0M661.4 622.0h0M681.1 618.6h0M615.9 622.0h0M577.0 624.2h0M587.8 622.3h0M601.4 621.0h0M623.1 620.5h0M590.2 622.9h0M641.1 619.1h0M680.0 619.3h0M596.0 620.4h0M611.8 621.7h0M672.1 619.2h0M635.3 622.6h0M599.8 620.9h0M620.8 624.3h0M658.0 621.7h0M578.7 620.9h0M662.5 621.4h0M614.8 622.7h0M575.5 622.7h0M647.8 619.3h0M617.7 624.1h0M600.4 622.0h0M609.7 622.1h0M614.8 620.8h0M674.6 623.0h0M682.9 620.7h0M623.3 620.9h0M668.1 621.0h0M647.2 619.7h0M631.7 620.3h0M673.3 620.9h0M677.7 622.2h0M609.2 622.1h0M675.3 623.0h0M663.3 622.2h0M640.3 619.5h0M664.2 622.7h0M643.6 620.5h0M656.5 622.0h0M606.9 624.9h0M657.5 622.9h0M665.1 623.1h0M614.1 624.7h0M672.4 622.9h0M619.7 621.8h0M576.1 624.3h0M664.1 622.4h0M623.2 623.7h0M573.4 621.2h0M599.1 622.5h0M610.7 622.5h0M671.5 621.2h0M583.9 618.7h0M664.6 621.6h0M620.4 618.8h0M582.5 618.6h0M671.3 618.9h0M607.0 621.6h0M635.2 620.0h0M643.3 622.7h0M681.3 619.2h0M604.1 619.3h0M603.4 620.0h0M574.4 623.8h0M601.8 623.4h0M662.1 623.7h0M573.8 622.4h0M666.3 622.6h0M638.6 621.3h0M663.1 622.0h0M610.4 621.8h0M623.8 619.8h0M646.3 623.9h0M644.2 618.7h0M616.4 623.5h0M585.7 621.8h0M647.5 622.0h0M608.0 618.7h0M649.9 619.7h0M638.3 622.0h0M652.0 619.3h0M680.1 623.4h0M668.7 619.8h0M651.7 621.0h0M649.4 623.1h0M616.8 624.7h0M620.1 621.6h0M651.1 619.6h0M671.3 620.7h0M670.4 619.5h0M584.9 622.4h0M598.0 621.4h0M593.4 623.2h0M653.6 623.0h0M586.0 618.9h0M636.3 619.1h0M651.2 622.1h0M675.4 623.8h0M644.4 623.9h0M627.8 620.5h0M577.9 623.1h0M645.6 622.6h0M628.3 621.5h0M673.9 621.0h0M586.7 624.7h0M656.3 624.3h0M681.4 621.4h0M588.4 621.8h0M625.9 621.1h0M659.1 620.2h0M679.7 620.0h0M602.8 623.9h0M597.2 623.2h0M601.7 621.2h0M623.6 620.2h0M663.2 624.6h0M674.6 619.6h0M573.9 621.4h0M653.9 622.1h0M678.6 624.9h0M647.5 620.3h0M616.0 619.0h0M615.1 623.4h0" stroke="#c9520f" stroke-width="3.0" stroke-linecap="round" fill="none"/>
<rect x="719.5" y="611.8" width="36" height="6" fill="#3b5ca6"/>
<rect x="936" y="614.2" width="52" height="5.4" fill="#3b5ca6"/>
<path d="M731.0 612.5h0M739.2 618.2h0M743.1 611.9h0M735.3 612.8h0M749.1 614.3h0M735.7 618.0h0M730.3 614.6h0M755.3 613.5h0M739.2 616.2h0M731.7 616.0h0M734.9 617.6h0M739.8 616.8h0M740.4 616.6h0M733.7 612.2h0M732.8 613.6h0M720.0 617.2h0M738.7 614.8h0M745.2 611.5h0M724.1 616.7h0M721.0 618.0h0M738.0 618.7h0M750.9 614.3h0M732.0 614.5h0M747.6 614.7h0M745.8 618.9h0M746.8 615.1h0M746.6 615.0h0M740.7 614.4h0M753.6 618.9h0M740.2 615.5h0M723.3 615.5h0M753.4 612.9h0M747.8 613.0h0M745.6 613.3h0M741.2 617.2h0M720.7 617.7h0M738.6 613.0h0M730.7 615.4h0M746.6 612.4h0M722.1 612.9h0M742.7 614.2h0M747.3 616.8h0M732.9 615.7h0M724.8 615.9h0M743.1 612.9h0M743.8 612.1h0M755.0 615.4h0M753.2 616.3h0M727.3 616.9h0M741.9 614.0h0M744.8 617.1h0M744.3 612.7h0M754.7 618.3h0M735.3 618.4h0M755.8 613.8h0M726.5 613.0h0M737.4 612.2h0M728.2 616.9h0M720.2 615.9h0M734.4 616.7h0M728.9 614.8h0M727.3 611.1h0M751.0 613.9h0M730.3 618.5h0M733.0 615.3h0M724.6 614.3h0M751.4 617.6h0M749.4 618.3h0M727.9 611.4h0M724.3 616.2h0M739.4 614.0h0M745.5 612.8h0M741.7 614.3h0M724.6 617.2h0M726.2 617.4h0M747.3 614.5h0M736.1 612.6h0M724.6 616.6h0M733.0 615.5h0M732.9 613.1h0M725.5 617.1h0M735.3 612.2h0M751.4 612.2h0M727.9 612.3h0M739.9 617.2h0M720.6 618.4h0M745.1 617.6h0M734.9 614.5h0M722.9 613.1h0M751.3 613.3h0M752.4 617.7h0M753.1 612.1h0M734.9 617.7h0M730.9 613.0h0M720.3 615.3h0M739.6 612.7h0M729.0 616.1h0M725.8 617.3h0M751.3 614.4h0M724.3 615.6h0M730.3 611.8h0M745.4 615.5h0M729.4 613.0h0M745.9 618.3h0M732.3 615.7h0M727.6 614.7h0M740.7 613.4h0M741.6 615.3h0M721.1 611.9h0M734.6 612.2h0M739.4 615.7h0M742.3 618.1h0M741.7 617.2h0M723.7 618.0h0M753.4 615.7h0M749.7 615.4h0M735.4 612.3h0M737.0 616.7h0M748.5 618.2h0M738.4 618.6h0M733.1 611.1h0M735.1 615.3h0M747.7 612.9h0M720.4 616.8h0M726.5 617.8h0M740.2 612.1h0M738.5 617.2h0M727.7 618.6h0M721.6 612.2h0M741.2 616.4h0M741.5 618.4h0M726.8 611.4h0M739.1 613.8h0M734.0 614.2h0M751.7 613.3h0M744.8 615.5h0M729.9 618.3h0M728.8 613.4h0M726.5 616.6h0M744.8 613.9h0M723.8 615.8h0M731.8 615.4h0M743.4 611.0h0M721.2 617.6h0M751.2 611.7h0M727.6 614.4h0M749.9 613.5h0M754.4 611.7h0M752.5 611.5h0M741.5 618.8h0M745.8 618.3h0M732.3 618.6h0M752.5 613.2h0M747.7 618.3h0M727.3 614.1h0M747.6 615.6h0M753.0 614.5h0M735.9 612.3h0M729.5 618.0h0M729.0 618.2h0M748.8 615.6h0M730.5 611.0h0M723.8 617.6h0M754.5 618.7h0M729.7 618.5h0M735.6 613.9h0M752.7 617.6h0M744.3 613.3h0M723.4 612.5h0M729.1 612.5h0M740.3 613.5h0M727.4 618.0h0M733.0 611.0h0M719.8 615.4h0M720.6 615.5h0M720.4 614.8h0M742.1 615.3h0M727.4 617.7h0M755.0 617.5h0M753.5 618.8h0M732.9 615.3h0M734.6 617.3h0M725.6 612.8h0M736.0 615.4h0M755.7 613.7h0M719.6 614.1h0M751.5 611.8h0M738.4 615.8h0M750.1 613.6h0M741.7 618.6h0M755.0 615.5h0M731.9 616.2h0M746.2 616.4h0M744.1 614.1h0M745.6 613.8h0M728.0 611.8h0M739.7 612.4h0M729.8 613.4h0M733.1 614.3h0M755.1 615.2h0M724.6 593.2h0M743.5 620.6h0M752.0 611.0h0M755.0 609.0h0M756.0 698.6h0M756.0 718.9h0M756.0 753.3h0M756.0 765.1h0M758.3 787.9h0M758.3 798.8h0M756.1 741.0h0M756.3 744.3h0M756.5 738.3h0M756.1 734.5h0M756.2 738.8h0M756.2 743.7h0M756.6 738.5h0M755.8 734.8h0M756.6 743.6h0M756.2 733.6h0M756.4 736.6h0M755.9 739.1h0M757.1 743.9h0M756.1 734.4h0M755.7 736.3h0M756.0 735.4h0M756.5 741.3h0M756.2 734.5h0M755.3 734.0h0M755.9 733.6h0M755.8 776.4h0M755.4 776.7h0M756.2 776.1h0M755.6 776.5h0M755.5 776.0h0M755.8 779.2h0M756.2 778.2h0M755.8 776.0h0M760.7 783.4h0M760.9 784.9h0M761.2 790.3h0M761.3 777.7h0M760.7 791.5h0M761.4 789.0h0M761.8 785.5h0M761.0 784.1h0M761.3 789.8h0M760.5 773.2h0M760.6 794.8h0M761.3 782.1h0M761.5 797.8h0M760.4 779.2h0M761.1 770.2h0M761.5 778.2h0M761.4 798.4h0M761.5 797.3h0M760.4 779.3h0M761.7 777.0h0M764.8 777.5h0M768.5 770.3h0M763.7 792.1h0M768.3 767.5h0M762.0 790.9h0M770.7 766.1h0M763.2 782.0h0M764.8 784.9h0M762.2 791.7h0M762.4 795.8h0M764.2 796.2h0M766.0 771.3h0M764.5 776.3h0M762.3 797.4h0M763.0 787.8h0M763.6 791.8h0M768.8 767.0h0M764.7 782.3h0M761.7 793.1h0M761.8 802.2h0M764.2 777.0h0M764.1 782.1h0M766.2 773.4h0M766.9 772.2h0M767.2 771.8h0M767.6 767.5h0M766.7 774.8h0M762.0 797.5h0M763.2 788.8h0M764.6 778.8h0M762.8 793.7h0M764.9 771.9h0M764.5 775.9h0M764.4 781.0h0M767.6 770.5h0M764.6 776.0h0M764.5 774.0h0M765.7 774.3h0M762.0 799.1h0M764.3 787.1h0M768.0 769.8h0M765.8 772.7h0M762.3 791.4h0M768.5 766.2h0M767.9 767.9h0M765.2 777.7h0M766.8 769.4h0M762.1 793.6h0M766.3 771.6h0M763.6 787.7h0M765.2 776.2h0M761.5 787.7h0M761.9 788.2h0M765.1 775.0h0M763.1 793.8h0M765.5 778.2h0M761.9 794.7h0M765.2 776.1h0M763.9 787.5h0M764.9 778.0h0M769.8 765.6h0M764.0 780.9h0M763.2 787.1h0M763.4 785.1h0M763.8 784.4h0M764.0 781.2h0M763.7 782.3h0M769.4 765.8h0M764.3 779.7h0M763.2 787.1h0M767.1 771.9h0M764.1 780.6h0M763.8 774.0h0M768.8 767.9h0M762.3 797.1h0M765.8 777.0h0M763.1 800.2h0M762.4 782.9h0M766.8 773.7h0M762.9 787.3h0M762.5 793.6h0M763.0 794.0h0M764.8 779.7h0M763.9 795.2h0M766.8 771.9h0M765.6 777.8h0M763.8 775.2h0M767.7 770.7h0M763.2 788.7h0M767.5 772.6h0M764.7 785.5h0M766.8 773.0h0M766.3 773.1h0M763.5 789.9h0M761.5 791.2h0M766.2 772.4h0M762.4 800.7h0M765.0 778.1h0M767.7 770.4h0M762.6 798.6h0M764.2 779.5h0M763.7 783.1h0M762.1 797.4h0M768.8 768.7h0M762.0 794.7h0M765.2 776.4h0M768.4 766.2h0M763.0 789.2h0M770.3 766.4h0M762.6 789.2h0M765.1 774.9h0M764.1 784.8h0M768.9 768.7h0M766.7 777.0h0M763.3 793.6h0M764.4 779.5h0M764.1 781.4h0M765.8 774.0h0M763.4 786.3h0M767.1 773.8h0M763.7 793.0h0M764.7 777.5h0M764.6 780.3h0M763.6 788.3h0M763.9 786.6h0M763.8 790.9h0M762.9 786.3h0M762.2 795.5h0M768.3 772.6h0M768.1 770.0h0M768.7 767.6h0M766.4 771.8h0M765.0 776.2h0M767.4 769.8h0M763.4 785.0h0M761.1 791.6h0M762.1 798.8h0M769.5 765.6h0M765.2 778.0h0M760.0 796.4h0M783.3 750.4h0M782.4 754.0h0M774.1 759.9h0M782.4 749.4h0M770.2 761.8h0M779.2 754.7h0M785.2 750.9h0M779.3 753.5h0M776.5 755.6h0M775.9 756.7h0M778.6 756.1h0M775.6 758.5h0M772.7 760.7h0M784.7 747.9h0M775.7 757.2h0M774.9 759.3h0M773.2 759.6h0M782.6 750.4h0M769.9 763.0h0M777.7 756.5h0M778.1 756.4h0M782.2 750.1h0M779.7 754.1h0M769.0 764.8h0M775.4 761.6h0M770.7 760.4h0M775.1 756.1h0M782.2 750.4h0M781.2 753.7h0M770.5 761.8h0M780.7 752.5h0M777.3 755.9h0M779.0 752.2h0M786.6 748.2h0M782.8 751.7h0M778.4 751.3h0M781.2 752.2h0M780.6 754.2h0M772.1 760.9h0M778.8 753.4h0M783.0 747.1h0M777.2 752.0h0M780.9 751.7h0M769.5 762.4h0M775.4 759.1h0M782.8 749.8h0M773.0 763.2h0M774.1 759.6h0M771.8 761.8h0M784.7 750.1h0M775.8 758.2h0M786.2 747.2h0M785.3 748.7h0M779.4 751.7h0M778.0 750.5h0M773.8 760.5h0M776.5 756.0h0M772.4 756.3h0M774.1 759.1h0M783.6 750.9h0M785.0 748.5h0M781.8 749.4h0M769.1 761.1h0M785.6 749.1h0M773.4 760.0h0M781.8 752.7h0M786.2 749.6h0M773.5 759.5h0M779.7 756.0h0M774.1 758.7h0M782.8 747.0h0M782.9 752.7h0M775.8 760.4h0M779.4 753.6h0M780.2 753.8h0M771.2 766.0h0M774.4 760.0h0M781.9 749.4h0M780.1 755.9h0M783.5 749.1h0M770.7 766.7h0M773.8 760.6h0M770.6 762.4h0M776.5 759.8h0M782.3 750.1h0M784.6 748.5h0M785.0 747.6h0M782.3 748.7h0M770.5 766.6h0M770.0 765.3h0M779.6 756.1h0M776.6 754.0h0M785.5 749.5h0M780.6 753.7h0M773.7 758.1h0M780.4 753.5h0M781.0 751.7h0M772.5 763.8h0M779.4 750.9h0M772.8 760.7h0M773.9 757.9h0M782.3 752.4h0M780.3 754.7h0M775.8 757.8h0M780.3 751.8h0M782.1 748.3h0M781.5 749.7h0M771.9 762.6h0M770.4 763.6h0M778.3 754.0h0M784.1 749.0h0M778.5 754.8h0M772.8 761.1h0M770.8 762.4h0M783.4 750.2h0M782.3 751.0h0M779.3 752.4h0M773.2 763.5h0M784.8 749.7h0M777.1 756.8h0M776.7 756.3h0M775.8 756.6h0M778.0 753.7h0M776.4 757.7h0M785.1 749.4h0M776.9 755.2h0M775.1 754.8h0M775.1 759.0h0M775.8 762.4h0M778.1 753.7h0M777.5 757.9h0M773.9 758.3h0M784.7 750.0h0M776.2 756.0h0M771.5 761.4h0M773.4 759.2h0M778.8 754.4h0M782.0 749.5h0M779.4 755.3h0M783.0 749.0h0M779.3 754.1h0M783.8 750.5h0M774.7 755.8h0M784.1 749.7h0M773.9 761.2h0M772.6 762.8h0M779.1 756.8h0M773.2 759.7h0M774.4 761.2h0M771.9 758.9h0M773.8 761.9h0M774.2 758.0h0M773.3 763.4h0M778.5 752.1h0M777.9 758.1h0M776.4 755.5h0M776.2 757.9h0M783.3 752.2h0M773.6 761.0h0M774.5 756.7h0M784.5 752.1h0M776.1 755.8h0M774.6 759.2h0M778.8 752.0h0M784.6 745.5h0M773.8 760.9h0M783.6 749.8h0M776.2 757.1h0M772.4 762.9h0M774.6 758.2h0M769.3 765.6h0M767.8 764.4h0M781.7 752.6h0M777.1 755.9h0M778.7 753.7h0M771.6 761.1h0M777.3 757.4h0M777.4 752.1h0M771.2 762.8h0M774.3 759.1h0M777.1 757.4h0M772.1 762.4h0M775.0 758.0h0M772.8 761.7h0M782.4 747.5h0M779.9 753.0h0M772.2 760.6h0M774.7 761.0h0M784.4 753.2h0M777.6 756.0h0M781.2 752.1h0M773.5 761.3h0M772.0 761.3h0M779.7 754.2h0M775.7 757.6h0M772.7 763.5h0M767.8 764.5h0M778.4 755.1h0M775.5 757.4h0M772.3 762.8h0M775.6 759.9h0M770.6 761.2h0M776.6 753.7h0M776.0 757.0h0M779.5 753.5h0M771.9 765.8h0M777.6 754.4h0M773.5 762.9h0M770.7 759.0h0M773.5 757.7h0M784.9 749.3h0M773.0 761.0h0M781.8 748.5h0M785.1 751.8h0M773.9 760.8h0M786.6 747.7h0M777.4 754.1h0M783.2 750.3h0M778.5 754.9h0M783.8 751.3h0M782.2 748.4h0M780.5 751.6h0M778.8 753.3h0M784.8 748.6h0M774.1 756.9h0M783.1 751.6h0M773.9 758.5h0M770.2 765.4h0M778.5 753.3h0M769.3 762.8h0M775.6 758.1h0M773.4 759.7h0M779.7 752.2h0M772.4 757.8h0M784.7 750.0h0M771.5 764.3h0M782.0 751.6h0M771.2 762.8h0M772.3 759.2h0M771.6 764.4h0M778.2 753.1h0M773.9 759.3h0M781.1 752.9h0M772.3 764.6h0M770.7 762.4h0M779.4 754.8h0M782.9 749.6h0M781.3 751.6h0M784.9 746.2h0M772.8 759.7h0M769.7 765.3h0M772.8 762.1h0M785.3 747.2h0M782.6 750.8h0M770.0 764.7h0M780.9 751.0h0M775.8 756.7h0M767.4 765.0h0M785.6 748.2h0M776.2 756.2h0M770.7 764.4h0M780.2 748.6h0M769.7 762.1h0M775.1 763.4h0M782.6 751.6h0M780.2 754.4h0M772.9 763.0h0M777.6 755.0h0M776.0 759.1h0M770.4 764.8h0M778.6 752.0h0M771.2 758.4h0M771.5 762.5h0M771.1 759.4h0M772.4 763.3h0M768.9 761.1h0M769.2 765.0h0M769.5 760.4h0M774.5 755.6h0M784.2 750.0h0M773.5 761.0h0M784.8 751.5h0M771.7 763.3h0M773.2 759.2h0M783.1 749.6h0M774.7 758.0h0M769.6 766.9h0M781.5 749.9h0M775.8 758.2h0M784.5 747.4h0M776.4 755.3h0M773.2 758.4h0M783.4 751.0h0M773.4 760.7h0M777.8 756.2h0M776.8 756.5h0M775.8 755.9h0M769.9 765.1h0M770.4 762.7h0M777.3 755.1h0M849.8 716.8h0M879.6 711.7h0M814.1 729.4h0M850.0 718.8h0M909.3 709.4h0M894.7 711.7h0M790.0 747.3h0M812.3 731.5h0M911.5 707.7h0M819.2 728.8h0M864.0 714.4h0M862.6 718.3h0M788.7 747.7h0M919.9 706.3h0M913.9 708.0h0M871.0 712.6h0M907.9 710.6h0M825.7 725.8h0M870.2 717.6h0M873.1 715.3h0M799.5 737.1h0M787.1 746.7h0M924.6 707.3h0M859.4 718.8h0M861.5 715.6h0M804.2 736.0h0M809.3 732.3h0M889.3 712.0h0M854.5 716.8h0M811.7 732.6h0M835.0 722.8h0M829.3 724.4h0M792.5 744.4h0M825.7 727.5h0M812.0 729.6h0M880.3 713.7h0M914.9 709.2h0M808.6 734.2h0M838.9 721.3h0M792.8 742.7h0M846.4 719.1h0M819.4 730.2h0M853.4 717.7h0M845.8 720.2h0M807.5 734.3h0M808.9 734.0h0M913.8 707.8h0M788.8 745.0h0M798.2 738.8h0M830.7 723.2h0M794.3 743.2h0M865.9 715.0h0M829.6 723.9h0M855.9 718.9h0M850.4 719.3h0M897.5 710.3h0M879.7 712.9h0M879.9 713.2h0M798.4 737.5h0M890.5 711.9h0M872.6 716.0h0M912.4 707.3h0M860.5 715.5h0M871.1 712.6h0M890.5 710.0h0M906.2 707.7h0M826.3 727.5h0M813.9 731.0h0M908.0 709.2h0M861.1 719.1h0M869.1 715.5h0M797.8 738.9h0M825.4 725.4h0M897.1 709.5h0M899.6 710.1h0M790.2 745.3h0M901.0 709.7h0M910.6 708.7h0M891.9 712.2h0M888.9 711.3h0M806.2 736.0h0M855.6 718.8h0M794.6 742.9h0M803.5 735.9h0M907.0 711.2h0M912.4 707.9h0M880.0 714.4h0M879.6 713.1h0M796.9 741.4h0M892.1 712.5h0M785.9 746.8h0M796.0 741.0h0M921.8 705.4h0M798.8 738.0h0M859.2 715.7h0M832.5 724.5h0M808.7 733.6h0M889.8 711.5h0M899.5 711.9h0M835.4 722.8h0M822.9 727.1h0M817.9 727.5h0M920.4 705.9h0M846.0 719.0h0M909.0 707.0h0M848.2 719.4h0M826.9 726.0h0M843.8 721.5h0M907.1 708.6h0M863.7 715.8h0M822.3 727.1h0M862.8 716.9h0M868.0 716.4h0M915.0 706.9h0M854.5 716.6h0M880.2 713.6h0M883.8 711.3h0M834.5 724.5h0M843.1 721.1h0M821.0 726.1h0M808.8 731.7h0M870.6 713.5h0M786.0 748.1h0M871.4 713.9h0M872.3 715.4h0M802.2 736.8h0M844.6 719.1h0M923.1 706.8h0M865.2 716.3h0M922.3 706.3h0M832.8 724.9h0M803.7 736.9h0M834.2 726.1h0M909.3 709.9h0M860.0 716.7h0M843.9 721.2h0M816.0 729.8h0M905.6 710.5h0M883.4 711.9h0M832.0 725.1h0M797.7 740.4h0M899.1 710.2h0M853.5 719.5h0M811.1 731.3h0M905.7 709.4h0M804.1 736.6h0M826.7 726.3h0M836.8 722.5h0M796.7 740.0h0M807.7 735.8h0M918.8 707.9h0M846.5 720.9h0M829.1 727.1h0M795.2 741.6h0M791.0 744.9h0M873.5 714.6h0M901.0 709.7h0M897.2 710.6h0M867.0 716.6h0M900.8 710.3h0M853.4 717.7h0M881.5 713.4h0M806.9 735.6h0M825.6 726.0h0M882.4 712.1h0M826.9 725.8h0M838.6 722.4h0M921.6 704.6h0M825.1 727.2h0M851.7 716.7h0M911.3 707.3h0M791.3 743.5h0M905.7 708.4h0M890.6 709.9h0M845.3 720.3h0M862.3 716.2h0M889.3 711.0h0M799.1 736.7h0M809.6 732.3h0M808.3 732.4h0M829.3 725.9h0M916.4 705.4h0M851.0 718.5h0M838.5 719.9h0M793.1 742.4h0M919.8 708.5h0M871.0 715.6h0M841.3 722.6h0M792.5 740.0h0M856.5 717.8h0M803.0 734.9h0M797.7 739.8h0M882.4 713.0h0M793.7 742.0h0M855.1 715.1h0M906.3 710.4h0M842.4 722.4h0M916.0 707.9h0M858.5 716.2h0M817.1 729.4h0M878.4 713.4h0M806.5 734.2h0M913.1 710.0h0M791.2 742.5h0M866.0 715.2h0M920.7 705.7h0M818.7 729.7h0M848.0 721.7h0M862.3 716.4h0M887.1 711.1h0M898.8 709.5h0M794.5 742.7h0M889.6 709.8h0M833.8 723.7h0M813.1 731.2h0M886.2 710.5h0M826.2 725.5h0M857.9 716.7h0M901.8 708.0h0M796.7 742.1h0M893.8 708.8h0M841.4 722.7h0M822.6 728.3h0M826.6 724.6h0M786.1 746.1h0M873.5 712.9h0M923.7 706.8h0M809.9 731.7h0M875.0 713.4h0M867.5 715.7h0M871.8 713.6h0M882.1 712.7h0M909.5 707.7h0M922.6 705.1h0M853.3 716.9h0M918.0 707.4h0M855.2 718.1h0M911.9 707.7h0M857.3 718.2h0M896.7 709.2h0M806.8 734.6h0M851.4 719.4h0M836.9 723.2h0M821.3 729.6h0M852.6 718.6h0M852.4 719.0h0M859.2 715.3h0M885.7 713.2h0M863.4 716.4h0M871.0 712.6h0M897.6 709.0h0M815.7 732.0h0M818.8 728.7h0M788.3 747.0h0M894.1 710.3h0M806.1 735.1h0M892.7 709.5h0M886.9 713.0h0M884.8 713.1h0M821.5 727.9h0M859.1 716.5h0M901.8 709.4h0M852.3 719.4h0M882.9 711.8h0M823.5 727.5h0M807.8 732.9h0M794.2 741.4h0M801.5 734.3h0M793.8 741.7h0M792.8 743.2h0M884.7 712.0h0M804.9 736.3h0M827.5 727.9h0M797.8 739.0h0M874.0 714.4h0M921.7 707.8h0M875.8 713.7h0M798.9 737.1h0M862.1 717.1h0M791.9 742.4h0M911.7 707.4h0M834.4 722.8h0M794.3 742.7h0M802.7 736.9h0M911.4 709.3h0M915.6 706.2h0M820.8 726.3h0M811.2 733.0h0M866.7 714.6h0M819.2 728.3h0M799.9 739.3h0M861.4 716.3h0M809.0 734.6h0M835.8 722.5h0M847.0 719.4h0M850.9 719.0h0M808.3 733.6h0M913.6 708.6h0M792.9 743.4h0M859.3 716.0h0M870.3 715.1h0M845.0 721.1h0M894.8 710.9h0M869.2 713.6h0M872.1 714.6h0M787.8 746.3h0M861.5 717.3h0M918.9 707.1h0M898.1 709.6h0M875.3 714.4h0M893.5 712.3h0M850.0 718.6h0M840.3 722.9h0M906.3 708.8h0M918.5 707.6h0M804.0 736.1h0M855.1 715.6h0M876.8 714.4h0M903.8 709.3h0M872.4 714.9h0M877.8 713.2h0M874.8 713.6h0M804.8 736.7h0M800.7 738.4h0M890.0 711.5h0M807.7 732.5h0M858.2 716.2h0M814.3 728.5h0M876.2 711.0h0M815.7 728.6h0M874.6 713.9h0M897.3 711.3h0M919.6 707.1h0M866.1 714.5h0M908.5 707.5h0M867.9 715.3h0M850.4 719.3h0M901.5 709.6h0M805.2 735.8h0M803.1 736.1h0M856.9 718.6h0M797.6 738.6h0M787.8 747.0h0M899.4 709.2h0M909.5 709.6h0M884.2 711.9h0M792.3 746.4h0M908.7 708.8h0M871.5 716.5h0M912.0 706.3h0M892.0 710.2h0M884.9 712.4h0M845.7 720.6h0M844.6 719.1h0M869.0 715.0h0M817.3 727.1h0M870.0 713.1h0M803.3 737.7h0M886.5 712.4h0M828.2 726.0h0M839.1 721.8h0M915.0 708.0h0M831.0 724.5h0M788.3 744.9h0M896.6 709.2h0M874.1 712.8h0M808.7 731.6h0M791.9 745.0h0M795.3 740.4h0M823.2 725.7h0M790.9 740.6h0M867.5 715.2h0M812.6 731.9h0M805.1 736.6h0M896.3 710.1h0M889.2 710.7h0M786.8 747.0h0M816.9 731.3h0M917.3 706.5h0M900.8 709.7h0M815.2 730.9h0M801.8 737.5h0M823.6 726.8h0M852.9 718.0h0M883.8 712.1h0M907.8 708.2h0M916.5 706.5h0M813.4 732.0h0M882.2 712.8h0M861.8 717.0h0M903.9 709.0h0M879.8 711.5h0M915.2 707.6h0M792.0 744.2h0M841.2 721.3h0M879.6 713.3h0M864.6 716.0h0M895.8 709.4h0M806.0 732.7h0M794.2 741.9h0M879.7 714.8h0M867.9 712.7h0M877.3 712.4h0M818.8 729.9h0M864.8 717.8h0M855.5 717.7h0M883.4 714.7h0M848.2 718.3h0M855.3 718.6h0M839.5 721.5h0M809.1 731.6h0M907.5 709.0h0M899.1 709.0h0M853.8 718.0h0M795.6 743.4h0M808.9 734.3h0M879.2 712.1h0M831.3 725.3h0M834.2 724.3h0M851.2 719.4h0M798.7 740.6h0M829.3 727.1h0M792.0 743.5h0M792.2 744.3h0M878.5 714.1h0M908.3 707.6h0M812.3 729.3h0M816.2 729.4h0M849.4 719.4h0M816.3 732.1h0M915.5 709.1h0M823.4 726.8h0M908.9 708.2h0M892.5 710.6h0M880.5 712.8h0M824.1 727.8h0M919.1 706.9h0M807.5 732.7h0M922.2 706.4h0M897.2 710.3h0M915.6 708.4h0M878.5 711.5h0M896.5 711.8h0M866.3 715.3h0M869.8 713.5h0M880.1 713.3h0M826.1 726.0h0M874.8 714.2h0M819.1 727.8h0M915.8 708.0h0M900.9 708.1h0M883.1 713.2h0M811.9 731.6h0M904.0 708.9h0M924.4 706.2h0M906.9 708.5h0M831.2 722.9h0M828.7 725.3h0M804.9 734.7h0M879.0 713.5h0M823.1 728.7h0M818.2 730.5h0M852.3 717.5h0M841.2 721.6h0M800.9 738.9h0M914.1 707.2h0M918.9 706.4h0M834.9 724.3h0M813.4 729.9h0M890.4 710.8h0M789.8 744.9h0M854.4 717.2h0M842.2 720.9h0M809.9 731.8h0M804.6 738.3h0M909.7 709.4h0M840.0 722.3h0M875.7 714.3h0M820.3 730.0h0M803.4 737.7h0M825.0 727.8h0M915.9 707.6h0M834.5 722.9h0M792.9 743.7h0M830.1 726.1h0M883.5 712.5h0M899.1 708.8h0M807.2 733.6h0M877.0 715.3h0M899.2 710.0h0M916.6 706.6h0M867.1 716.2h0M802.3 736.9h0M796.1 739.4h0M812.0 731.6h0M856.5 717.2h0M922.6 704.3h0M825.7 726.0h0M915.3 708.2h0M797.0 742.0h0M790.7 744.0h0M885.9 712.7h0M917.0 708.3h0M885.3 713.8h0M923.1 707.6h0M802.4 736.0h0M918.9 703.7h0M896.5 709.5h0M875.8 714.2h0M912.7 708.0h0M849.6 719.5h0M864.8 717.7h0M844.9 718.9h0M919.2 706.7h0M890.6 711.5h0M895.9 708.7h0M895.3 712.7h0M872.8 713.8h0M904.6 709.4h0M858.6 715.8h0M794.5 741.8h0M907.5 710.4h0M864.9 716.5h0M814.9 730.0h0M857.7 717.5h0M879.5 715.4h0M838.2 724.1h0M908.0 709.7h0M829.0 725.5h0M791.3 745.0h0M869.1 715.8h0M838.4 722.8h0M857.8 716.8h0M906.2 710.1h0M812.1 730.4h0M862.1 716.6h0M797.1 740.7h0M828.5 724.9h0M892.8 711.0h0M862.0 716.8h0M923.0 706.2h0M895.2 709.7h0M800.7 737.2h0M887.5 711.2h0M892.4 710.9h0M918.9 707.1h0M844.9 721.9h0M855.4 717.5h0M835.6 723.4h0M882.5 712.7h0M843.1 720.8h0M785.6 746.1h0M804.4 736.0h0M914.8 706.6h0M881.4 713.8h0M830.8 725.3h0M796.0 739.6h0M786.5 747.2h0M859.3 719.3h0M825.5 726.1h0M910.4 708.5h0M813.6 730.0h0M903.2 709.8h0M845.8 720.6h0M854.2 717.3h0M806.5 733.7h0M848.7 718.7h0M788.7 747.8h0M881.1 713.5h0M825.8 726.3h0M882.5 712.6h0M812.8 730.1h0M905.6 707.7h0M925.1 705.9h0M795.8 740.9h0M867.1 715.1h0M793.7 741.7h0M837.0 722.6h0M879.6 711.8h0M806.8 734.2h0M811.4 733.3h0M869.9 715.5h0M862.1 715.7h0M883.9 713.2h0M801.5 736.7h0M895.9 710.3h0M838.2 722.8h0M896.5 710.5h0M790.9 741.3h0M787.6 747.4h0M815.9 732.6h0M910.9 709.1h0M893.7 710.8h0M833.0 721.2h0M842.6 721.4h0M869.1 715.5h0M916.9 707.4h0M826.8 727.9h0M902.2 708.4h0M814.3 731.8h0M845.5 722.7h0M887.3 712.4h0M820.3 729.0h0M891.5 711.0h0M807.7 734.5h0M845.2 718.3h0M844.8 721.3h0M872.4 714.2h0M914.6 707.6h0M869.8 713.4h0M795.0 742.5h0M898.1 711.9h0M795.5 741.6h0M880.3 712.2h0M878.1 713.8h0M836.7 722.5h0M807.8 734.6h0M895.6 709.7h0M842.5 720.1h0M813.6 731.0h0M922.1 708.8h0M788.5 743.2h0M896.9 709.9h0M817.2 729.7h0M812.2 732.4h0M824.7 729.1h0M798.3 738.1h0M848.6 718.4h0M892.8 711.4h0M894.3 710.8h0M885.4 711.2h0M908.1 709.2h0M897.7 709.5h0M859.8 716.9h0M836.6 724.3h0M878.5 714.2h0M818.0 729.1h0M829.4 725.2h0M824.8 727.3h0M854.2 717.0h0M823.5 727.7h0M907.0 707.1h0M909.6 708.7h0M795.1 741.5h0M795.4 741.1h0M810.6 731.0h0M914.8 708.3h0M793.1 743.1h0M786.7 748.8h0M846.5 719.6h0M797.0 742.1h0M920.5 706.0h0M829.0 725.4h0M821.5 728.3h0M909.0 708.5h0M834.6 722.8h0M800.1 738.8h0M893.5 710.5h0M848.3 719.0h0M845.3 720.1h0M921.9 706.1h0M911.3 707.0h0M808.4 732.6h0M846.8 720.9h0M917.7 706.4h0M867.6 713.7h0M822.1 729.3h0M914.0 707.0h0M822.8 727.3h0M851.7 715.9h0M796.9 741.6h0M867.6 715.1h0M799.4 737.8h0M787.8 746.7h0M840.6 722.1h0M887.6 711.4h0M877.8 712.1h0M833.2 723.9h0M889.9 711.4h0M817.9 729.4h0M828.6 726.9h0M899.4 710.2h0M823.4 728.0h0M901.3 708.4h0M920.1 707.7h0M818.2 728.2h0M798.0 738.1h0M904.2 707.5h0M848.0 719.0h0M809.4 731.5h0M822.8 727.3h0M872.8 715.0h0M791.8 743.3h0M899.9 710.3h0M824.5 727.0h0M802.8 735.8h0M895.6 710.5h0M864.7 716.5h0M795.5 741.9h0M804.0 736.0h0M863.5 715.1h0M865.8 715.4h0M802.8 736.8h0M911.2 707.6h0M898.5 708.8h0M908.8 709.2h0M840.9 721.6h0M833.3 724.4h0M911.0 708.9h0M910.1 707.9h0M850.4 720.9h0M895.3 710.2h0M872.5 713.5h0M826.6 726.0h0M799.2 740.2h0M787.5 745.8h0M820.9 729.2h0M865.4 714.4h0M880.6 711.6h0M884.3 711.9h0M832.3 726.0h0M806.5 734.6h0M804.0 735.2h0M831.2 724.7h0M853.1 716.2h0M917.9 706.3h0M849.9 720.2h0M857.5 715.1h0M880.5 712.1h0M880.6 712.1h0M897.5 710.8h0M899.6 708.6h0M865.6 716.0h0M908.7 709.2h0M855.3 716.2h0M791.6 742.5h0M828.3 725.3h0M890.6 711.8h0M887.6 710.1h0M881.2 713.3h0M790.6 745.4h0M852.4 719.1h0M802.1 737.6h0M799.4 738.5h0M811.1 731.6h0M915.1 708.7h0M852.8 719.3h0M838.3 721.4h0M831.9 722.8h0M786.0 745.7h0M851.2 719.1h0M804.1 735.7h0M904.1 708.2h0M891.1 710.5h0M815.7 728.8h0M922.9 707.5h0M891.5 712.8h0M902.6 711.0h0M822.3 728.6h0M890.8 710.3h0M877.9 712.5h0M902.4 709.0h0M903.5 710.5h0M882.6 712.7h0M856.3 717.5h0M901.2 710.9h0M822.4 728.7h0M800.6 737.8h0M846.1 723.4h0M810.1 732.3h0M877.8 714.8h0M834.7 724.4h0M867.9 716.1h0M826.3 724.4h0M898.0 710.7h0M855.7 717.8h0M864.6 716.2h0M841.2 721.8h0M917.8 705.8h0M909.5 707.3h0M848.3 717.5h0M786.0 747.8h0M873.1 715.1h0M843.5 722.8h0M817.4 729.3h0M858.2 717.2h0M830.5 724.5h0M829.5 725.8h0M820.6 727.7h0M805.9 735.5h0M797.0 739.5h0M868.4 714.8h0M803.0 736.9h0M844.6 719.3h0M794.5 742.4h0M834.2 723.5h0M790.3 744.0h0M813.2 731.7h0M823.3 728.3h0M863.0 715.0h0M822.4 728.4h0M825.8 727.6h0M914.3 706.6h0M789.3 743.9h0M903.9 708.9h0M923.4 706.8h0M849.8 718.5h0M888.3 712.5h0M799.4 738.7h0M825.2 727.5h0M796.7 742.2h0M821.0 726.5h0M872.0 712.2h0M817.6 733.1h0M910.5 710.3h0M796.2 742.9h0M798.6 738.9h0M891.1 712.2h0M860.2 715.4h0M789.3 743.1h0M854.8 719.6h0M841.7 723.2h0M889.9 710.3h0M788.7 746.9h0M789.6 744.6h0M892.7 711.3h0M814.4 731.1h0M854.5 717.2h0M919.2 707.3h0M820.1 729.3h0M795.1 741.4h0M887.1 711.8h0M878.6 712.6h0M840.0 724.4h0M847.9 718.9h0M866.0 714.4h0M820.7 729.6h0M839.3 723.1h0M827.4 727.2h0M804.7 736.7h0M921.6 705.9h0M901.8 709.3h0M893.3 709.7h0M908.9 707.1h0M913.8 707.9h0M786.3 746.2h0M906.3 708.9h0M809.9 732.3h0M798.5 740.1h0M843.9 722.4h0M889.3 710.4h0M888.5 710.0h0M824.4 725.4h0M816.4 730.0h0M866.9 716.1h0M810.2 734.7h0M829.4 725.2h0M862.5 715.9h0M896.6 711.6h0M819.9 729.4h0M894.0 710.4h0M807.4 735.0h0M834.6 723.0h0M849.8 718.3h0M833.2 724.0h0M823.3 726.3h0M820.4 729.5h0M807.2 735.8h0M885.5 711.8h0M891.2 710.1h0M789.5 746.2h0M842.3 720.7h0M814.2 731.3h0M799.8 738.7h0M900.9 710.9h0M864.0 716.4h0M894.9 712.1h0M882.8 711.9h0M852.7 717.1h0M885.4 710.2h0M842.7 721.7h0M822.9 727.2h0M826.0 727.7h0M810.5 731.9h0M831.6 722.5h0M838.5 722.2h0M860.1 717.1h0M880.0 713.6h0M814.7 732.1h0M836.9 723.2h0M891.7 712.0h0M869.3 714.9h0M865.8 716.0h0M922.7 707.8h0M844.1 720.8h0M788.4 744.1h0M900.2 710.3h0M847.9 720.0h0M803.8 737.0h0M802.4 737.3h0M880.0 712.0h0M896.3 710.8h0M914.3 708.0h0M848.5 719.6h0M900.6 708.4h0M838.8 721.5h0M860.6 718.0h0M854.5 719.2h0M890.4 711.1h0M857.6 716.4h0M906.1 709.4h0M854.3 717.1h0M807.9 733.6h0M842.9 721.7h0M833.9 723.2h0M820.2 727.2h0M784.3 748.4h0M895.8 710.4h0M852.7 718.7h0M896.2 710.7h0M889.6 710.5h0M856.3 718.1h0M809.2 731.5h0M800.2 736.1h0M900.8 710.3h0M853.4 718.8h0M905.6 706.7h0M799.2 739.0h0M817.6 728.5h0M812.0 731.7h0M794.1 742.2h0M894.3 710.8h0M803.1 735.1h0M811.5 729.4h0M832.1 726.1h0M869.0 714.8h0M826.8 725.3h0M849.1 718.2h0M800.1 736.5h0M867.9 714.6h0M851.0 718.7h0M827.9 726.6h0M898.0 709.4h0M898.0 710.2h0M892.5 709.5h0M816.6 730.7h0M829.0 723.7h0M902.6 707.7h0M899.7 709.3h0M905.0 711.1h0M797.4 742.3h0M859.1 716.6h0M794.8 744.3h0M894.4 711.1h0M790.7 744.7h0M808.9 732.5h0M849.7 718.3h0M893.4 711.7h0M908.4 706.9h0M892.8 711.2h0M855.1 717.2h0M877.9 713.2h0M882.5 712.1h0M846.2 720.8h0M825.9 727.9h0M861.2 714.6h0M917.7 706.8h0M854.8 717.6h0M824.5 727.8h0M842.3 720.3h0M918.8 705.1h0M825.0 725.5h0M844.0 720.7h0M922.5 707.6h0M848.2 720.0h0M914.9 708.7h0M839.1 720.8h0M856.3 717.5h0M874.3 714.0h0M820.9 727.3h0M791.9 744.7h0M871.8 712.2h0M916.7 707.2h0M874.3 714.7h0M806.4 734.7h0M878.0 712.9h0M850.9 716.9h0M831.6 725.9h0M823.7 726.7h0M860.5 716.5h0M810.3 732.8h0M903.2 709.7h0M815.3 728.9h0M806.4 732.9h0M895.6 711.9h0M818.9 729.0h0M836.1 724.7h0M888.1 711.1h0M822.4 727.4h0M884.5 712.0h0M803.3 729.8h0M860.8 710.5h0M866.3 705.1h0M873.7 703.7h0M893.6 700.2h0M953.1 592.8h0M960.7 589.7h0M964.3 590.1h0M985.2 599.9h0M930.5 649.6h0M925.3 670.1h0M932.0 635.3h0M928.2 652.4h0M924.2 696.7h0M932.1 642.9h0M929.8 643.5h0M929.9 645.9h0M924.2 699.6h0M927.5 652.9h0M924.5 677.4h0M930.4 645.3h0M931.3 633.2h0M923.8 690.0h0M928.7 650.4h0M932.7 636.1h0M926.3 662.2h0M930.3 645.1h0M931.0 635.2h0M924.4 688.6h0M923.8 704.0h0M925.9 666.2h0M931.4 635.2h0M923.8 685.6h0M924.3 673.4h0M925.3 675.2h0M928.8 651.8h0M924.8 699.0h0M930.1 645.1h0M926.8 665.5h0M924.6 706.2h0M927.5 660.8h0M927.5 657.9h0M924.2 705.3h0M929.6 647.5h0M924.9 685.7h0M924.9 685.1h0M924.3 688.1h0M923.7 700.2h0M930.5 645.5h0M927.8 654.1h0M926.6 665.0h0M932.4 636.2h0M924.5 694.0h0M931.7 641.5h0M924.6 680.1h0M924.2 682.9h0M925.3 685.5h0M928.0 655.8h0M930.8 640.7h0M932.3 631.5h0M924.9 694.5h0M931.3 638.6h0M928.5 652.0h0M927.1 657.3h0M928.8 647.9h0M923.9 699.0h0M927.2 656.9h0M925.0 672.2h0M932.6 630.2h0M925.7 679.5h0M924.4 688.3h0M932.0 640.3h0M924.8 680.2h0M930.6 642.4h0M923.6 697.0h0M924.1 697.1h0M927.7 664.1h0M925.3 676.1h0M929.9 648.0h0M924.8 677.0h0M925.3 686.9h0M925.1 667.9h0M929.1 649.6h0M925.8 674.7h0M924.0 697.1h0M925.0 681.4h0M925.1 688.2h0M925.8 665.0h0M927.1 660.5h0M924.2 706.3h0M923.6 690.3h0M930.1 646.0h0M924.2 690.5h0M925.0 694.9h0M931.5 636.3h0M924.9 697.6h0M924.7 682.2h0M925.6 672.7h0M925.5 684.6h0M929.3 650.0h0M932.3 609.0h0M932.5 606.9h0M932.7 615.3h0M933.4 597.6h0M932.5 614.1h0M932.3 627.5h0M932.0 618.2h0M932.6 606.5h0M932.5 601.9h0M932.4 615.5h0M933.2 606.9h0M932.7 612.5h0M933.7 597.3h0M931.9 619.8h0M932.0 618.9h0M933.3 592.3h0M933.6 600.8h0M933.7 598.7h0M935.0 606.0h0M935.5 610.0h0M935.9 615.0h0M974.9 618.7h0M978.4 617.6h0M982.5 618.4h0M955.9 616.1h0M979.7 619.5h0M955.6 619.5h0M977.3 618.1h0M953.6 615.5h0M951.1 618.1h0M960.1 615.2h0M943.6 618.8h0M945.9 614.9h0M963.6 614.1h0M957.0 615.1h0M980.7 617.2h0M961.7 616.7h0M937.0 619.0h0M985.1 613.9h0M965.4 618.7h0M980.0 619.7h0M983.0 619.3h0M943.6 620.0h0M987.2 617.8h0M981.6 615.4h0M958.5 614.5h0M960.5 619.9h0M972.7 616.6h0M952.4 615.1h0M958.4 615.6h0M961.4 617.3h0M957.1 617.5h0M957.5 616.9h0M961.3 619.0h0M982.5 617.4h0M975.4 615.7h0M944.5 615.8h0M943.2 618.5h0M983.7 617.8h0M947.4 614.6h0M976.1 617.4h0M943.6 620.0h0M975.2 619.8h0M987.1 618.7h0M984.3 619.6h0M944.3 615.9h0M963.9 617.8h0M943.9 615.5h0M976.2 619.8h0M960.7 619.6h0M981.5 619.4h0M945.8 616.2h0M970.5 618.8h0M979.3 614.5h0M971.2 614.0h0M952.2 614.1h0M962.6 614.6h0M970.3 616.3h0M978.1 615.8h0M987.5 614.5h0M940.3 616.9h0M962.1 619.0h0M937.4 614.9h0M948.8 616.5h0M978.7 617.9h0M948.3 616.2h0M975.9 617.2h0M941.6 616.0h0M937.3 616.6h0M948.0 615.7h0M953.6 619.2h0M940.3 614.4h0M942.8 616.5h0M958.6 619.6h0M973.8 615.5h0M942.8 617.2h0M979.3 615.2h0M975.8 616.1h0M985.8 619.7h0M945.1 618.8h0M966.7 616.2h0M962.9 619.4h0M961.0 617.3h0M961.7 614.0h0M975.5 614.4h0M982.8 613.8h0M965.5 615.4h0M971.6 617.7h0M974.8 618.9h0M987.4 614.5h0M947.9 616.8h0M984.3 616.3h0M946.8 617.1h0M952.4 614.3h0M978.0 616.6h0M979.8 614.4h0M953.6 614.5h0M980.0 616.6h0M967.5 614.1h0M958.9 616.2h0M972.6 615.3h0M987.2 615.8h0M962.7 616.7h0M953.9 614.2h0M938.0 619.5h0M986.9 617.6h0M942.9 615.0h0M952.6 614.0h0M953.8 615.5h0M953.0 619.0h0M965.0 620.0h0M952.0 614.2h0M975.7 618.3h0M978.5 616.1h0M978.4 614.4h0M973.5 618.1h0M965.4 617.6h0M960.1 616.5h0M960.7 617.6h0M980.0 615.9h0M965.0 616.2h0M944.9 618.2h0M936.3 619.2h0M938.6 614.8h0M974.8 616.5h0M951.6 616.8h0M984.4 617.8h0M954.8 619.7h0M948.7 614.4h0M974.2 618.8h0M977.4 616.3h0M971.4 615.1h0M949.9 619.6h0M980.3 619.7h0M964.7 618.2h0M954.8 616.3h0M984.2 618.4h0M984.9 614.7h0M957.5 619.5h0M984.2 618.9h0M982.1 615.4h0M973.1 614.5h0M959.8 613.9h0M958.5 615.0h0M957.3 618.0h0M971.1 619.3h0M984.6 615.7h0M953.4 616.4h0M949.2 619.0h0M977.2 617.9h0M969.7 615.6h0M950.4 618.5h0M940.8 619.9h0M943.5 615.1h0M975.5 619.5h0M944.1 619.6h0M962.5 614.6h0M964.4 615.2h0M969.7 617.7h0M979.4 619.5h0M980.8 618.0h0M973.9 619.2h0M979.5 616.9h0M984.9 619.8h0M946.3 615.1h0M967.9 617.2h0M958.0 616.9h0M946.8 616.4h0M966.9 618.5h0M972.7 614.4h0M946.9 616.8h0M976.2 615.5h0M974.4 615.2h0M951.8 619.1h0M946.2 619.0h0M964.6 614.0h0M960.4 617.2h0M942.5 616.1h0M961.2 616.7h0M983.9 616.2h0M982.6 615.6h0M974.8 614.8h0M966.4 618.4h0M979.0 614.1h0M974.7 614.8h0M986.2 615.7h0M980.4 614.8h0M987.3 617.1h0M947.5 619.5h0M977.1 618.3h0M958.3 615.2h0M969.1 619.1h0M974.3 618.2h0M939.2 616.7h0M951.1 617.1h0M970.8 617.5h0M936.1 615.7h0M950.8 616.4h0M950.8 615.0h0M947.6 616.8h0M981.9 615.1h0M986.0 617.9h0M982.6 619.3h0M975.2 619.5h0M946.1 617.7h0M954.8 614.8h0M950.3 617.8h0M942.9 614.4h0M980.0 618.9h0M937.6 615.0h0M936.2 617.1h0M987.2 614.7h0M966.0 616.5h0M973.9 617.5h0M974.1 614.5h0M986.8 618.7h0M941.6 613.9h0M978.2 618.6h0M955.8 619.6h0M968.9 617.0h0M938.1 616.8h0M955.7 616.5h0M953.9 619.1h0M955.2 614.4h0M949.1 619.0h0M962.9 616.0h0M981.5 619.9h0M957.7 614.7h0M952.7 614.5h0M981.4 618.2h0M952.7 617.8h0M980.1 620.0h0M945.0 616.6h0M969.6 616.5h0M963.5 616.6h0M957.3 617.4h0M956.6 615.6h0M957.6 618.6h0M944.0 616.7h0M948.1 619.6h0M936.4 616.0h0M986.1 618.2h0M948.3 618.4h0M962.1 614.4h0M941.4 614.1h0M950.8 616.3h0M986.5 619.3h0M964.6 617.9h0M968.3 618.8h0M955.3 617.8h0M947.3 615.2h0M949.9 616.3h0M951.4 617.5h0M938.1 615.8h0M967.5 618.7h0M977.0 616.5h0M968.4 614.0h0M984.1 617.9h0M977.2 614.5h0M957.5 615.7h0M979.8 618.5h0" stroke="#3b5ca6" stroke-width="3.0" stroke-linecap="round" fill="none"/>
<line x1="108.2" y1="618.1" x2="378.3" y2="618.1" stroke="#b03a44" stroke-opacity="0.70" stroke-width="5.8" stroke-dasharray="21.7 9.6" />
<line x1="413.9" y1="618.1" x2="683.6" y2="618.1" stroke="#b03a44" stroke-opacity="0.70" stroke-width="5.8" stroke-dasharray="21.7 9.6" />
<line x1="719.0" y1="618.1" x2="989.0" y2="618.1" stroke="#b03a44" stroke-opacity="0.70" stroke-width="5.8" stroke-dasharray="21.7 9.6" />
<rect x="108.2" y="586.1" width="270.1" height="334.5" fill="none" stroke="#454545" stroke-width="2.0"/>
<line x1="133.7" y1="920.6" x2="133.7" y2="908.6" stroke="#1a1a1a" stroke-width="2.2"/>
<text x="133.7" y="950.3" font-size="33.3" text-anchor="middle" >0</text>
<line x1="308.5" y1="920.6" x2="308.5" y2="908.6" stroke="#1a1a1a" stroke-width="2.2"/>
<text x="308.5" y="950.3" font-size="33.3" text-anchor="middle" >200</text>
<text x="243.2" y="983.1" font-size="33.3" text-anchor="middle" >Time (s)</text>
<rect x="413.9" y="586.1" width="269.7" height="334.5" fill="none" stroke="#454545" stroke-width="2.0"/>
<line x1="452.2" y1="920.6" x2="452.2" y2="908.6" stroke="#1a1a1a" stroke-width="2.2"/>
<text x="452.2" y="950.3" font-size="33.3" text-anchor="middle" >0</text>
<line x1="606.5" y1="920.6" x2="606.5" y2="908.6" stroke="#1a1a1a" stroke-width="2.2"/>
<text x="606.5" y="950.3" font-size="33.3" text-anchor="middle" >1000</text>
<text x="548.8" y="983.1" font-size="33.3" text-anchor="middle" >Time (s)</text>
<rect x="719.0" y="586.1" width="270.0" height="334.5" fill="none" stroke="#454545" stroke-width="2.0"/>
<line x1="754.7" y1="920.6" x2="754.7" y2="908.6" stroke="#1a1a1a" stroke-width="2.2"/>
<text x="754.7" y="950.3" font-size="33.3" text-anchor="middle" >0</text>
<line x1="910.9" y1="920.6" x2="910.9" y2="908.6" stroke="#1a1a1a" stroke-width="2.2"/>
<text x="910.9" y="950.3" font-size="33.3" text-anchor="middle" >1000</text>
<text x="854.0" y="983.1" font-size="33.3" text-anchor="middle" >Time (s)</text>
<text x="85.3" y="911.0" font-size="33" text-anchor="end" >10</text>
<text x="85.8" y="887.6" font-size="23" text-anchor="start" >4</text>
<text x="85.3" y="818.0" font-size="33" text-anchor="end" >10</text>
<text x="85.8" y="794.6" font-size="23" text-anchor="start" >5</text>
<text x="85.3" y="724.9" font-size="33" text-anchor="end" >10</text>
<text x="85.8" y="701.5" font-size="23" text-anchor="start" >6</text>
<text x="85.3" y="631.9" font-size="33" text-anchor="end" >10</text>
<text x="85.8" y="608.5" font-size="23" text-anchor="start" >7</text>
<g transform="translate(39.6,924.2) rotate(-90)"><text x="0" y="0" font-size="33">Sheet Resistance (Ω/</text></g>
<rect x="25.2" y="597.5" width="14" height="13.4" fill="none" stroke="#111" stroke-width="1.6"/>
<g transform="translate(39.6,593.2) rotate(-90)"><text x="0" y="0" font-size="33">)</text></g>
<circle cx="223.2" cy="873.4" r="4.5" fill="#4f8a12"/>
<text x="281.8" y="885.1" font-size="33.4" text-anchor="start" >LSM</text>
<circle cx="530.4" cy="873.4" r="4.5" fill="#c9520f"/>
<text x="589.0" y="885.1" font-size="33.4" text-anchor="start" >LAO</text>
<circle cx="828.4" cy="873.4" r="4.5" fill="#3b5ca6"/>
<text x="886.5" y="885.1" font-size="33.4" text-anchor="start" >GAO</text>
<line x1="211.4" y1="791.9" x2="211.4" y2="754.1" stroke="#000" stroke-width="2.6"/>
<polygon points="211.4,740.1 219.9,755.1 202.9,755.1" fill="#000"/>
<line x1="604.2" y1="838" x2="577.6" y2="811.5" stroke="#000" stroke-width="2.6"/>
<polygon points="567.7,801.6 584.3,806.2 572.3,818.2" fill="#000"/>
<line x1="922.7" y1="775.8" x2="922.7" y2="738.0" stroke="#000" stroke-width="2.6"/>
<polygon points="922.7,724 931.2,739.0 914.2,739.0" fill="#000"/>
<text transform="translate(215.6,786.3) scale(0.84,1)" font-size="28.2">O</text>
<text x="235.9" y="796.1" font-size="17">2</text>
<text x="250.9" y="786.3" font-size="27.5">Flush</text>
<text transform="translate(604.6,835.3) scale(1.0,1)" font-size="27.2">O</text>
<text x="625.2" y="845.2" font-size="17">2</text>
<text transform="translate(930.0,775.8) scale(1.0,1)" font-size="27.2">O</text>
<text x="951.3" y="786.3" font-size="17">2</text>
<text x="0.5" y="545.2" style="font-family:&quot;Liberation Serif&quot;,serif;font-weight:bold" font-size="38">b)</text>
</svg></body></html>
